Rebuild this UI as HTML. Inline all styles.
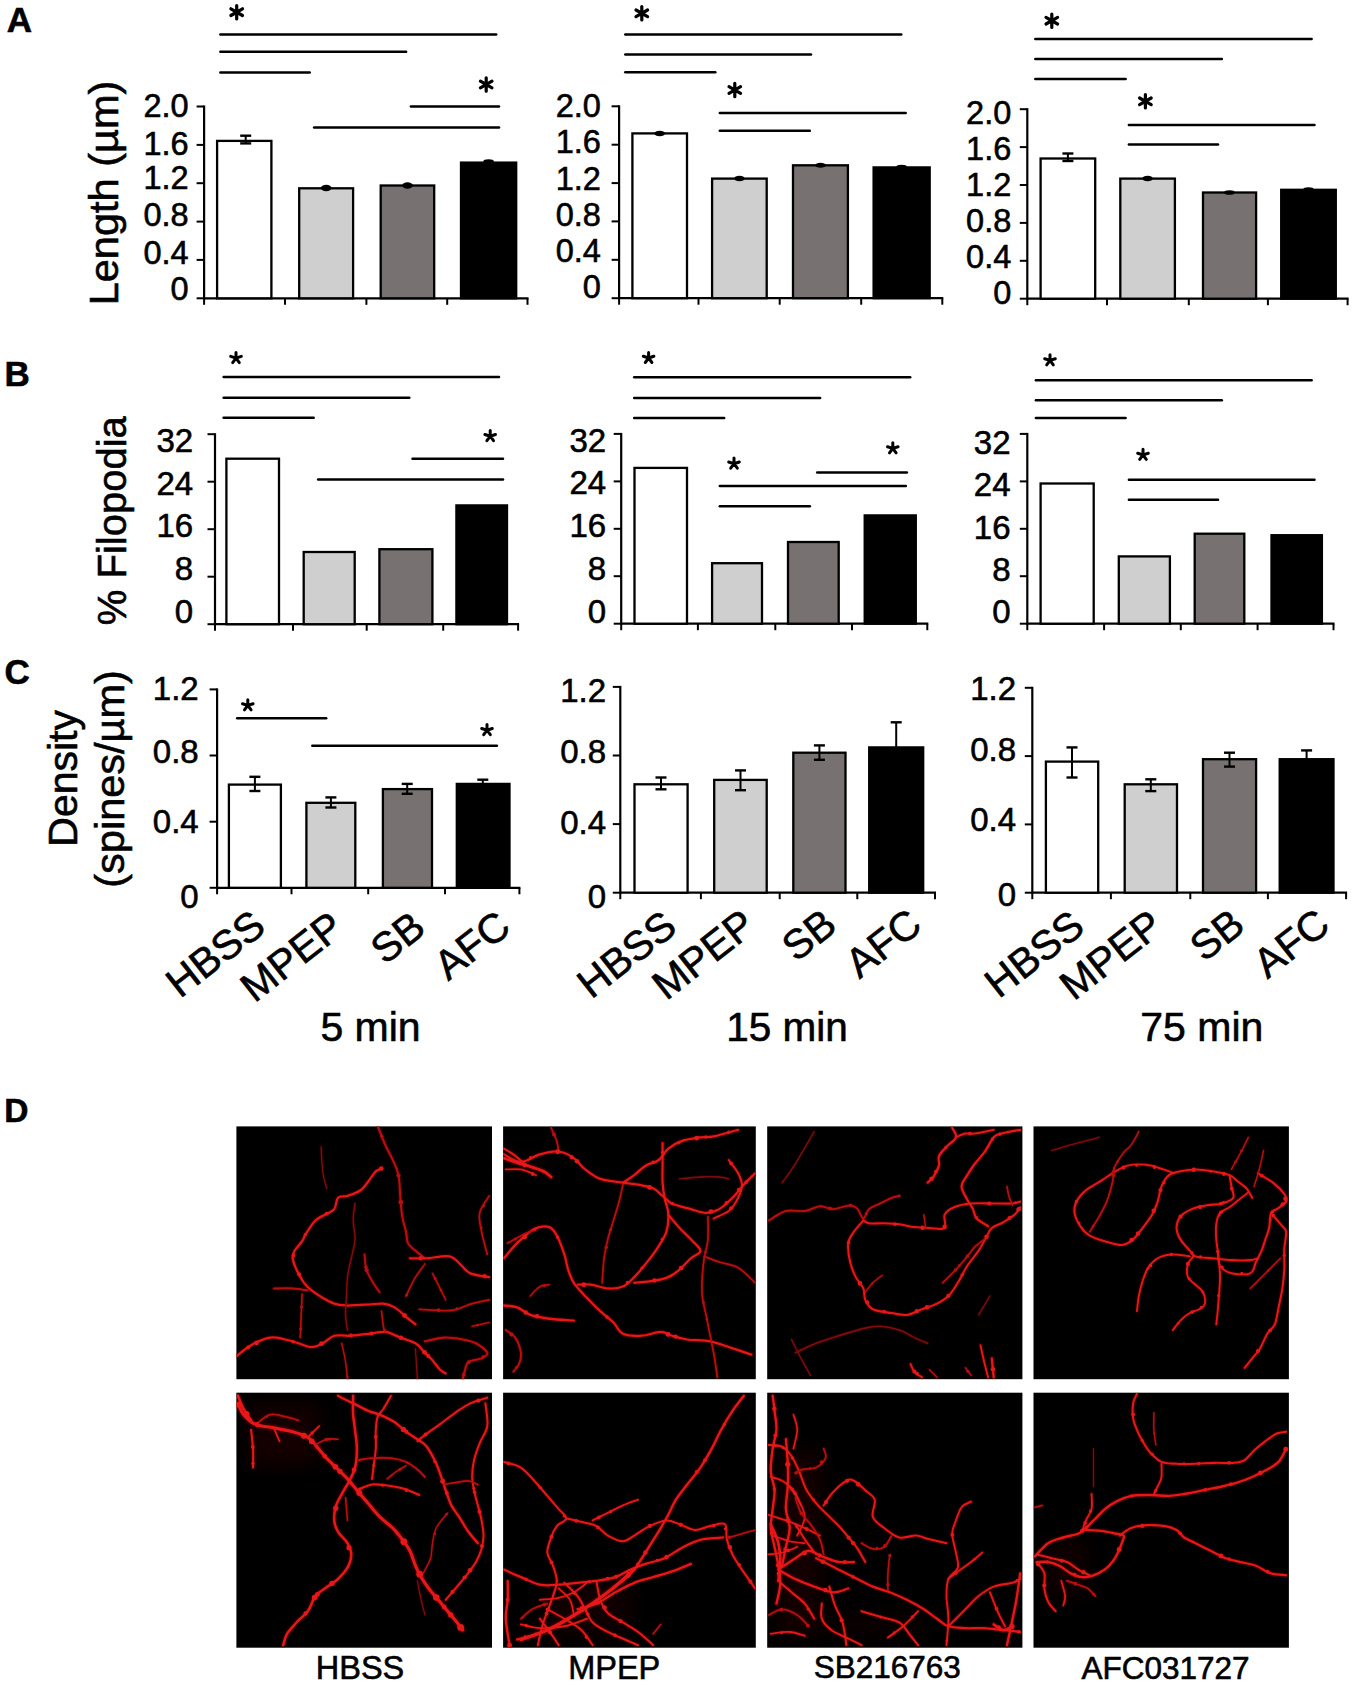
<!DOCTYPE html>
<html><head><meta charset="utf-8"><style>
html,body{margin:0;padding:0;background:#fff;width:1355px;height:1685px;overflow:hidden}
</style></head><body>
<svg width="1355" height="1685" viewBox="0 0 1355 1685" style="position:absolute;left:0;top:0" font-family='"Liberation Sans", sans-serif' fill="#000">
<style>text{stroke:#000;stroke-width:0.6px;paint-order:stroke}</style>
<rect x="0" y="0" width="1355" height="1685" fill="#fff"/>
<line x1="204.1" y1="105.5" x2="204.1" y2="299.3" stroke="#000" stroke-width="2.2" stroke-linecap="butt"/>
<line x1="196.6" y1="106.5" x2="204.1" y2="106.5" stroke="#000" stroke-width="2.0" stroke-linecap="butt"/>
<line x1="196.6" y1="144.9" x2="204.1" y2="144.9" stroke="#000" stroke-width="2.0" stroke-linecap="butt"/>
<line x1="196.6" y1="183.2" x2="204.1" y2="183.2" stroke="#000" stroke-width="2.0" stroke-linecap="butt"/>
<line x1="196.6" y1="221.6" x2="204.1" y2="221.6" stroke="#000" stroke-width="2.0" stroke-linecap="butt"/>
<line x1="196.6" y1="259.9" x2="204.1" y2="259.9" stroke="#000" stroke-width="2.0" stroke-linecap="butt"/>
<line x1="196.6" y1="298.3" x2="204.1" y2="298.3" stroke="#000" stroke-width="2.0" stroke-linecap="butt"/>
<line x1="204.1" y1="298.3" x2="528.5" y2="298.3" stroke="#000" stroke-width="2.2" stroke-linecap="butt"/>
<line x1="204.1" y1="298.3" x2="204.1" y2="304.8" stroke="#000" stroke-width="2.0" stroke-linecap="butt"/>
<line x1="285.0" y1="298.3" x2="285.0" y2="304.8" stroke="#000" stroke-width="2.0" stroke-linecap="butt"/>
<line x1="366.4" y1="298.3" x2="366.4" y2="304.8" stroke="#000" stroke-width="2.0" stroke-linecap="butt"/>
<line x1="447.2" y1="298.3" x2="447.2" y2="304.8" stroke="#000" stroke-width="2.0" stroke-linecap="butt"/>
<line x1="527.5" y1="298.3" x2="527.5" y2="304.8" stroke="#000" stroke-width="2.0" stroke-linecap="butt"/>
<rect x="217.1" y="140.9" width="54.3" height="157.4" fill="#ffffff" stroke="#000" stroke-width="2.3"/>
<rect x="299.2" y="188.3" width="53.9" height="110.0" fill="#d0cfd0" stroke="#000" stroke-width="2.3"/>
<rect x="380.7" y="185.5" width="53.5" height="112.8" fill="#777171" stroke="#000" stroke-width="2.3"/>
<rect x="461.0" y="162.6" width="55.2" height="135.7" fill="#000000" stroke="#000" stroke-width="2.3"/>
<line x1="245.7" y1="135.7" x2="245.7" y2="143.4" stroke="#000" stroke-width="2.0" stroke-linecap="butt"/>
<line x1="240.2" y1="135.7" x2="251.2" y2="135.7" stroke="#000" stroke-width="2.4" stroke-linecap="butt"/>
<line x1="240.2" y1="143.4" x2="251.2" y2="143.4" stroke="#000" stroke-width="2.4" stroke-linecap="butt"/>
<ellipse cx="326.2" cy="188.0" rx="5.3" ry="3.3" fill="#000"/>
<ellipse cx="407.5" cy="185.5" rx="5.3" ry="3.3" fill="#000"/>
<ellipse cx="488.6" cy="161.5" rx="5.3" ry="2.3" fill="#000"/>
<line x1="220.4" y1="34.6" x2="496.2" y2="34.6" stroke="#000" stroke-width="2.5" stroke-linecap="round"/>
<line x1="220.4" y1="51.8" x2="406.1" y2="51.8" stroke="#000" stroke-width="2.5" stroke-linecap="round"/>
<line x1="220.4" y1="72.5" x2="309.7" y2="72.5" stroke="#000" stroke-width="2.5" stroke-linecap="round"/>
<line x1="410.9" y1="106.4" x2="499.0" y2="106.4" stroke="#000" stroke-width="2.5" stroke-linecap="round"/>
<line x1="314.1" y1="127.5" x2="499.0" y2="127.5" stroke="#000" stroke-width="2.5" stroke-linecap="round"/>
<path d="M236.7 18.9L236.7 5.5M230.9 15.5L242.5 8.8M230.9 8.8L242.5 15.5" stroke="#000" stroke-width="3.2" stroke-linecap="round" fill="none"/>
<path d="M486.2 91.2L486.2 77.8M480.4 87.8L492.0 81.2M480.4 81.2L492.0 87.8" stroke="#000" stroke-width="3.2" stroke-linecap="round" fill="none"/>
<text x="188.6" y="117.1" font-size="32.5" text-anchor="end" font-weight="normal">2.0</text>
<text x="188.6" y="155.2" font-size="32.5" text-anchor="end" font-weight="normal">1.6</text>
<text x="188.6" y="189.3" font-size="32.5" text-anchor="end" font-weight="normal">1.2</text>
<text x="188.6" y="225.6" font-size="32.5" text-anchor="end" font-weight="normal">0.8</text>
<text x="188.6" y="264.0" font-size="32.5" text-anchor="end" font-weight="normal">0.4</text>
<text x="188.6" y="300.2" font-size="32.5" text-anchor="end" font-weight="normal">0</text>
<line x1="619.1" y1="105.3" x2="619.1" y2="299.2" stroke="#000" stroke-width="2.2" stroke-linecap="butt"/>
<line x1="611.6" y1="106.3" x2="619.1" y2="106.3" stroke="#000" stroke-width="2.0" stroke-linecap="butt"/>
<line x1="611.6" y1="144.7" x2="619.1" y2="144.7" stroke="#000" stroke-width="2.0" stroke-linecap="butt"/>
<line x1="611.6" y1="183.1" x2="619.1" y2="183.1" stroke="#000" stroke-width="2.0" stroke-linecap="butt"/>
<line x1="611.6" y1="221.4" x2="619.1" y2="221.4" stroke="#000" stroke-width="2.0" stroke-linecap="butt"/>
<line x1="611.6" y1="259.8" x2="619.1" y2="259.8" stroke="#000" stroke-width="2.0" stroke-linecap="butt"/>
<line x1="611.6" y1="298.2" x2="619.1" y2="298.2" stroke="#000" stroke-width="2.0" stroke-linecap="butt"/>
<line x1="619.1" y1="298.2" x2="943.3" y2="298.2" stroke="#000" stroke-width="2.2" stroke-linecap="butt"/>
<line x1="619.1" y1="298.2" x2="619.1" y2="304.7" stroke="#000" stroke-width="2.0" stroke-linecap="butt"/>
<line x1="698.5" y1="298.2" x2="698.5" y2="304.7" stroke="#000" stroke-width="2.0" stroke-linecap="butt"/>
<line x1="779.7" y1="298.2" x2="779.7" y2="304.7" stroke="#000" stroke-width="2.0" stroke-linecap="butt"/>
<line x1="861.2" y1="298.2" x2="861.2" y2="304.7" stroke="#000" stroke-width="2.0" stroke-linecap="butt"/>
<line x1="942.3" y1="298.2" x2="942.3" y2="304.7" stroke="#000" stroke-width="2.0" stroke-linecap="butt"/>
<rect x="632.4" y="133.4" width="54.6" height="164.8" fill="#ffffff" stroke="#000" stroke-width="2.3"/>
<rect x="712.1" y="178.6" width="54.6" height="119.6" fill="#d0cfd0" stroke="#000" stroke-width="2.3"/>
<rect x="793.0" y="165.3" width="54.9" height="132.9" fill="#777171" stroke="#000" stroke-width="2.3"/>
<rect x="873.6" y="167.4" width="56.1" height="130.8" fill="#000000" stroke="#000" stroke-width="2.3"/>
<ellipse cx="659.7" cy="133.5" rx="5.3" ry="2.8" fill="#000"/>
<ellipse cx="739.4" cy="178.5" rx="5.3" ry="2.8" fill="#000"/>
<ellipse cx="820.5" cy="165.2" rx="5.3" ry="2.5" fill="#000"/>
<ellipse cx="901.6" cy="166.8" rx="5.3" ry="2.0" fill="#000"/>
<line x1="625.3" y1="34.5" x2="901.3" y2="34.5" stroke="#000" stroke-width="2.5" stroke-linecap="round"/>
<line x1="625.3" y1="54.6" x2="811.0" y2="54.6" stroke="#000" stroke-width="2.5" stroke-linecap="round"/>
<line x1="625.3" y1="72.3" x2="715.3" y2="72.3" stroke="#000" stroke-width="2.5" stroke-linecap="round"/>
<line x1="719.8" y1="113.1" x2="905.7" y2="113.1" stroke="#000" stroke-width="2.5" stroke-linecap="round"/>
<line x1="719.8" y1="130.8" x2="809.8" y2="130.8" stroke="#000" stroke-width="2.5" stroke-linecap="round"/>
<path d="M641.8 20.0L641.8 6.6M636.0 16.6L647.6 10.0M636.0 10.0L647.6 16.6" stroke="#000" stroke-width="3.2" stroke-linecap="round" fill="none"/>
<path d="M734.8 96.7L734.8 83.3M729.0 93.3L740.6 86.7M729.0 86.7L740.6 93.3" stroke="#000" stroke-width="3.2" stroke-linecap="round" fill="none"/>
<text x="600.9" y="117.1" font-size="32.5" text-anchor="end" font-weight="normal">2.0</text>
<text x="600.9" y="153.3" font-size="32.5" text-anchor="end" font-weight="normal">1.6</text>
<text x="600.9" y="189.5" font-size="32.5" text-anchor="end" font-weight="normal">1.2</text>
<text x="600.9" y="225.7" font-size="32.5" text-anchor="end" font-weight="normal">0.8</text>
<text x="600.9" y="261.9" font-size="32.5" text-anchor="end" font-weight="normal">0.4</text>
<text x="600.9" y="298.1" font-size="32.5" text-anchor="end" font-weight="normal">0</text>
<line x1="1027.3" y1="108.2" x2="1027.3" y2="299.7" stroke="#000" stroke-width="2.2" stroke-linecap="butt"/>
<line x1="1019.8" y1="109.2" x2="1027.3" y2="109.2" stroke="#000" stroke-width="2.0" stroke-linecap="butt"/>
<line x1="1019.8" y1="147.1" x2="1027.3" y2="147.1" stroke="#000" stroke-width="2.0" stroke-linecap="butt"/>
<line x1="1019.8" y1="185.0" x2="1027.3" y2="185.0" stroke="#000" stroke-width="2.0" stroke-linecap="butt"/>
<line x1="1019.8" y1="222.9" x2="1027.3" y2="222.9" stroke="#000" stroke-width="2.0" stroke-linecap="butt"/>
<line x1="1019.8" y1="260.8" x2="1027.3" y2="260.8" stroke="#000" stroke-width="2.0" stroke-linecap="butt"/>
<line x1="1019.8" y1="298.7" x2="1027.3" y2="298.7" stroke="#000" stroke-width="2.0" stroke-linecap="butt"/>
<line x1="1027.3" y1="298.7" x2="1348.6" y2="298.7" stroke="#000" stroke-width="2.2" stroke-linecap="butt"/>
<line x1="1027.3" y1="298.7" x2="1027.3" y2="305.2" stroke="#000" stroke-width="2.0" stroke-linecap="butt"/>
<line x1="1107.0" y1="298.7" x2="1107.0" y2="305.2" stroke="#000" stroke-width="2.0" stroke-linecap="butt"/>
<line x1="1188.8" y1="298.7" x2="1188.8" y2="305.2" stroke="#000" stroke-width="2.0" stroke-linecap="butt"/>
<line x1="1267.9" y1="298.7" x2="1267.9" y2="305.2" stroke="#000" stroke-width="2.0" stroke-linecap="butt"/>
<line x1="1347.6" y1="298.7" x2="1347.6" y2="305.2" stroke="#000" stroke-width="2.0" stroke-linecap="butt"/>
<rect x="1040.6" y="158.5" width="54.6" height="140.2" fill="#ffffff" stroke="#000" stroke-width="2.3"/>
<rect x="1120.3" y="178.6" width="54.6" height="120.1" fill="#d0cfd0" stroke="#000" stroke-width="2.3"/>
<rect x="1203.0" y="192.5" width="53.1" height="106.2" fill="#777171" stroke="#000" stroke-width="2.3"/>
<rect x="1281.2" y="189.8" width="54.6" height="108.9" fill="#000000" stroke="#000" stroke-width="2.3"/>
<line x1="1067.9" y1="153.5" x2="1067.9" y2="161.0" stroke="#000" stroke-width="2.0" stroke-linecap="butt"/>
<line x1="1062.4" y1="153.5" x2="1073.4" y2="153.5" stroke="#000" stroke-width="2.4" stroke-linecap="butt"/>
<line x1="1062.4" y1="161.0" x2="1073.4" y2="161.0" stroke="#000" stroke-width="2.4" stroke-linecap="butt"/>
<ellipse cx="1147.6" cy="178.5" rx="5.3" ry="2.8" fill="#000"/>
<ellipse cx="1229.5" cy="192.5" rx="5.3" ry="2.3" fill="#000"/>
<ellipse cx="1308.5" cy="189.5" rx="5.3" ry="2.3" fill="#000"/>
<line x1="1035.3" y1="39.0" x2="1311.6" y2="39.0" stroke="#000" stroke-width="2.5" stroke-linecap="round"/>
<line x1="1035.3" y1="59.0" x2="1221.8" y2="59.0" stroke="#000" stroke-width="2.5" stroke-linecap="round"/>
<line x1="1035.3" y1="79.1" x2="1125.6" y2="79.1" stroke="#000" stroke-width="2.5" stroke-linecap="round"/>
<line x1="1128.9" y1="124.9" x2="1314.5" y2="124.9" stroke="#000" stroke-width="2.5" stroke-linecap="round"/>
<line x1="1128.9" y1="144.6" x2="1218.0" y2="144.6" stroke="#000" stroke-width="2.5" stroke-linecap="round"/>
<path d="M1051.8 27.4L1051.8 14.0M1046.0 24.0L1057.6 17.4M1046.0 17.4L1057.6 24.0" stroke="#000" stroke-width="3.2" stroke-linecap="round" fill="none"/>
<path d="M1145.4 108.0L1145.4 94.6M1139.6 104.6L1151.2 98.0M1139.6 98.0L1151.2 104.6" stroke="#000" stroke-width="3.2" stroke-linecap="round" fill="none"/>
<text x="1011.3" y="123.9" font-size="32.5" text-anchor="end" font-weight="normal">2.0</text>
<text x="1011.3" y="160.0" font-size="32.5" text-anchor="end" font-weight="normal">1.6</text>
<text x="1011.3" y="196.1" font-size="32.5" text-anchor="end" font-weight="normal">1.2</text>
<text x="1011.3" y="232.2" font-size="32.5" text-anchor="end" font-weight="normal">0.8</text>
<text x="1011.3" y="268.3" font-size="32.5" text-anchor="end" font-weight="normal">0.4</text>
<text x="1011.3" y="304.4" font-size="32.5" text-anchor="end" font-weight="normal">0</text>
<line x1="215.0" y1="433.2" x2="215.0" y2="625.2" stroke="#000" stroke-width="2.2" stroke-linecap="butt"/>
<line x1="207.5" y1="434.2" x2="215.0" y2="434.2" stroke="#000" stroke-width="2.0" stroke-linecap="butt"/>
<line x1="207.5" y1="481.7" x2="215.0" y2="481.7" stroke="#000" stroke-width="2.0" stroke-linecap="butt"/>
<line x1="207.5" y1="529.2" x2="215.0" y2="529.2" stroke="#000" stroke-width="2.0" stroke-linecap="butt"/>
<line x1="207.5" y1="576.7" x2="215.0" y2="576.7" stroke="#000" stroke-width="2.0" stroke-linecap="butt"/>
<line x1="207.5" y1="624.2" x2="215.0" y2="624.2" stroke="#000" stroke-width="2.0" stroke-linecap="butt"/>
<line x1="215.0" y1="624.2" x2="519.1" y2="624.2" stroke="#000" stroke-width="2.2" stroke-linecap="butt"/>
<line x1="215.0" y1="624.2" x2="215.0" y2="630.7" stroke="#000" stroke-width="2.0" stroke-linecap="butt"/>
<line x1="293.0" y1="624.2" x2="293.0" y2="630.7" stroke="#000" stroke-width="2.0" stroke-linecap="butt"/>
<line x1="366.7" y1="624.2" x2="366.7" y2="630.7" stroke="#000" stroke-width="2.0" stroke-linecap="butt"/>
<line x1="443.2" y1="624.2" x2="443.2" y2="630.7" stroke="#000" stroke-width="2.0" stroke-linecap="butt"/>
<line x1="518.1" y1="624.2" x2="518.1" y2="630.7" stroke="#000" stroke-width="2.0" stroke-linecap="butt"/>
<rect x="226.4" y="458.7" width="52.6" height="165.5" fill="#ffffff" stroke="#000" stroke-width="2.3"/>
<rect x="303.7" y="552.0" width="51.0" height="72.2" fill="#d0cfd0" stroke="#000" stroke-width="2.3"/>
<rect x="379.4" y="549.2" width="53.0" height="75.0" fill="#777171" stroke="#000" stroke-width="2.3"/>
<rect x="456.4" y="505.4" width="50.6" height="118.8" fill="#000000" stroke="#000" stroke-width="2.3"/>
<line x1="223.6" y1="377.0" x2="499.0" y2="377.0" stroke="#000" stroke-width="2.5" stroke-linecap="round"/>
<line x1="223.6" y1="397.8" x2="409.3" y2="397.8" stroke="#000" stroke-width="2.5" stroke-linecap="round"/>
<line x1="223.6" y1="417.7" x2="313.7" y2="417.7" stroke="#000" stroke-width="2.5" stroke-linecap="round"/>
<line x1="412.5" y1="458.7" x2="503.0" y2="458.7" stroke="#000" stroke-width="2.5" stroke-linecap="round"/>
<line x1="318.1" y1="479.5" x2="503.0" y2="479.5" stroke="#000" stroke-width="2.5" stroke-linecap="round"/>
<path d="M236.0 358.1L236.0 352.5M236.0 358.1L241.3 356.4M236.0 358.1L230.7 356.4M236.0 358.1L239.3 362.6M236.0 358.1L232.7 362.6" stroke="#000" stroke-width="3.0" stroke-linecap="round" fill="none"/>
<circle cx="236.0" cy="358.1" r="2.2" fill="#000"/>
<path d="M490.2 436.2L490.2 430.6M490.2 436.2L495.5 434.5M490.2 436.2L484.9 434.5M490.2 436.2L493.5 440.7M490.2 436.2L486.9 440.7" stroke="#000" stroke-width="3.0" stroke-linecap="round" fill="none"/>
<circle cx="490.2" cy="436.2" r="2.2" fill="#000"/>
<text x="193.1" y="451.8" font-size="33" text-anchor="end" font-weight="normal">32</text>
<text x="193.1" y="494.6" font-size="33" text-anchor="end" font-weight="normal">24</text>
<text x="193.1" y="537.4" font-size="33" text-anchor="end" font-weight="normal">16</text>
<text x="193.1" y="580.2" font-size="33" text-anchor="end" font-weight="normal">8</text>
<text x="193.1" y="623.0" font-size="33" text-anchor="end" font-weight="normal">0</text>
<line x1="621.2" y1="432.9" x2="621.2" y2="624.7" stroke="#000" stroke-width="2.2" stroke-linecap="butt"/>
<line x1="613.7" y1="433.9" x2="621.2" y2="433.9" stroke="#000" stroke-width="2.0" stroke-linecap="butt"/>
<line x1="613.7" y1="481.4" x2="621.2" y2="481.4" stroke="#000" stroke-width="2.0" stroke-linecap="butt"/>
<line x1="613.7" y1="528.8" x2="621.2" y2="528.8" stroke="#000" stroke-width="2.0" stroke-linecap="butt"/>
<line x1="613.7" y1="576.2" x2="621.2" y2="576.2" stroke="#000" stroke-width="2.0" stroke-linecap="butt"/>
<line x1="613.7" y1="623.7" x2="621.2" y2="623.7" stroke="#000" stroke-width="2.0" stroke-linecap="butt"/>
<line x1="621.2" y1="623.7" x2="928.3" y2="623.7" stroke="#000" stroke-width="2.2" stroke-linecap="butt"/>
<line x1="621.2" y1="623.7" x2="621.2" y2="630.2" stroke="#000" stroke-width="2.0" stroke-linecap="butt"/>
<line x1="697.9" y1="623.7" x2="697.9" y2="630.2" stroke="#000" stroke-width="2.0" stroke-linecap="butt"/>
<line x1="775.3" y1="623.7" x2="775.3" y2="630.2" stroke="#000" stroke-width="2.0" stroke-linecap="butt"/>
<line x1="852.0" y1="623.7" x2="852.0" y2="630.2" stroke="#000" stroke-width="2.0" stroke-linecap="butt"/>
<line x1="927.3" y1="623.7" x2="927.3" y2="630.2" stroke="#000" stroke-width="2.0" stroke-linecap="butt"/>
<rect x="634.5" y="467.9" width="52.5" height="155.8" fill="#ffffff" stroke="#000" stroke-width="2.3"/>
<rect x="712.1" y="563.2" width="49.9" height="60.5" fill="#d0cfd0" stroke="#000" stroke-width="2.3"/>
<rect x="788.0" y="542.0" width="50.7" height="81.7" fill="#777171" stroke="#000" stroke-width="2.3"/>
<rect x="864.7" y="515.4" width="51.1" height="108.3" fill="#000000" stroke="#000" stroke-width="2.3"/>
<line x1="634.2" y1="377.2" x2="910.2" y2="377.2" stroke="#000" stroke-width="2.5" stroke-linecap="round"/>
<line x1="634.2" y1="397.9" x2="820.1" y2="397.9" stroke="#000" stroke-width="2.5" stroke-linecap="round"/>
<line x1="634.2" y1="418.0" x2="724.2" y2="418.0" stroke="#000" stroke-width="2.5" stroke-linecap="round"/>
<line x1="817.2" y1="472.6" x2="906.9" y2="472.6" stroke="#000" stroke-width="2.5" stroke-linecap="round"/>
<line x1="719.8" y1="485.9" x2="905.8" y2="485.9" stroke="#000" stroke-width="2.5" stroke-linecap="round"/>
<line x1="719.8" y1="506.2" x2="809.8" y2="506.2" stroke="#000" stroke-width="2.5" stroke-linecap="round"/>
<path d="M648.6 358.0L648.6 352.4M648.6 358.0L653.9 356.3M648.6 358.0L643.3 356.3M648.6 358.0L651.9 362.5M648.6 358.0L645.3 362.5" stroke="#000" stroke-width="3.0" stroke-linecap="round" fill="none"/>
<circle cx="648.6" cy="358.0" r="2.2" fill="#000"/>
<path d="M734.0 463.7L734.0 458.1M734.0 463.7L739.3 462.0M734.0 463.7L728.7 462.0M734.0 463.7L737.3 468.2M734.0 463.7L730.7 468.2" stroke="#000" stroke-width="3.0" stroke-linecap="round" fill="none"/>
<circle cx="734.0" cy="463.7" r="2.2" fill="#000"/>
<path d="M892.8 448.4L892.8 442.8M892.8 448.4L898.1 446.7M892.8 448.4L887.5 446.7M892.8 448.4L896.1 452.9M892.8 448.4L889.5 452.9" stroke="#000" stroke-width="3.0" stroke-linecap="round" fill="none"/>
<circle cx="892.8" cy="448.4" r="2.2" fill="#000"/>
<text x="606.1" y="451.6" font-size="33" text-anchor="end" font-weight="normal">32</text>
<text x="606.1" y="494.4" font-size="33" text-anchor="end" font-weight="normal">24</text>
<text x="606.1" y="537.2" font-size="33" text-anchor="end" font-weight="normal">16</text>
<text x="606.1" y="580.0" font-size="33" text-anchor="end" font-weight="normal">8</text>
<text x="606.1" y="622.8" font-size="33" text-anchor="end" font-weight="normal">0</text>
<line x1="1027.3" y1="432.9" x2="1027.3" y2="624.7" stroke="#000" stroke-width="2.2" stroke-linecap="butt"/>
<line x1="1019.8" y1="433.9" x2="1027.3" y2="433.9" stroke="#000" stroke-width="2.0" stroke-linecap="butt"/>
<line x1="1019.8" y1="481.4" x2="1027.3" y2="481.4" stroke="#000" stroke-width="2.0" stroke-linecap="butt"/>
<line x1="1019.8" y1="528.8" x2="1027.3" y2="528.8" stroke="#000" stroke-width="2.0" stroke-linecap="butt"/>
<line x1="1019.8" y1="576.2" x2="1027.3" y2="576.2" stroke="#000" stroke-width="2.0" stroke-linecap="butt"/>
<line x1="1019.8" y1="623.7" x2="1027.3" y2="623.7" stroke="#000" stroke-width="2.0" stroke-linecap="butt"/>
<line x1="1027.3" y1="623.7" x2="1334.5" y2="623.7" stroke="#000" stroke-width="2.2" stroke-linecap="butt"/>
<line x1="1027.3" y1="623.7" x2="1027.3" y2="630.2" stroke="#000" stroke-width="2.0" stroke-linecap="butt"/>
<line x1="1104.1" y1="623.7" x2="1104.1" y2="630.2" stroke="#000" stroke-width="2.0" stroke-linecap="butt"/>
<line x1="1180.8" y1="623.7" x2="1180.8" y2="630.2" stroke="#000" stroke-width="2.0" stroke-linecap="butt"/>
<line x1="1257.6" y1="623.7" x2="1257.6" y2="630.2" stroke="#000" stroke-width="2.0" stroke-linecap="butt"/>
<line x1="1333.5" y1="623.7" x2="1333.5" y2="630.2" stroke="#000" stroke-width="2.0" stroke-linecap="butt"/>
<rect x="1040.6" y="483.5" width="53.1" height="140.2" fill="#ffffff" stroke="#000" stroke-width="2.3"/>
<rect x="1118.8" y="556.4" width="51.1" height="67.3" fill="#d0cfd0" stroke="#000" stroke-width="2.3"/>
<rect x="1194.7" y="533.7" width="49.6" height="90.0" fill="#777171" stroke="#000" stroke-width="2.3"/>
<rect x="1271.5" y="535.2" width="50.4" height="88.5" fill="#000000" stroke="#000" stroke-width="2.3"/>
<line x1="1035.9" y1="380.2" x2="1311.6" y2="380.2" stroke="#000" stroke-width="2.5" stroke-linecap="round"/>
<line x1="1035.9" y1="400.3" x2="1221.8" y2="400.3" stroke="#000" stroke-width="2.5" stroke-linecap="round"/>
<line x1="1035.9" y1="418.0" x2="1125.6" y2="418.0" stroke="#000" stroke-width="2.5" stroke-linecap="round"/>
<line x1="1128.9" y1="479.7" x2="1314.5" y2="479.7" stroke="#000" stroke-width="2.5" stroke-linecap="round"/>
<line x1="1128.9" y1="499.7" x2="1218.0" y2="499.7" stroke="#000" stroke-width="2.5" stroke-linecap="round"/>
<path d="M1050.0 360.4L1050.0 354.8M1050.0 360.4L1055.3 358.7M1050.0 360.4L1044.7 358.7M1050.0 360.4L1053.3 364.9M1050.0 360.4L1046.7 364.9" stroke="#000" stroke-width="3.0" stroke-linecap="round" fill="none"/>
<circle cx="1050.0" cy="360.4" r="2.2" fill="#000"/>
<path d="M1143.0 454.9L1143.0 449.3M1143.0 454.9L1148.3 453.2M1143.0 454.9L1137.7 453.2M1143.0 454.9L1146.3 459.4M1143.0 454.9L1139.7 459.4" stroke="#000" stroke-width="3.0" stroke-linecap="round" fill="none"/>
<circle cx="1143.0" cy="454.9" r="2.2" fill="#000"/>
<text x="1010.5" y="454.1" font-size="33" text-anchor="end" font-weight="normal">32</text>
<text x="1010.5" y="496.4" font-size="33" text-anchor="end" font-weight="normal">24</text>
<text x="1010.5" y="538.7" font-size="33" text-anchor="end" font-weight="normal">16</text>
<text x="1010.5" y="581.0" font-size="33" text-anchor="end" font-weight="normal">8</text>
<text x="1010.5" y="623.3" font-size="33" text-anchor="end" font-weight="normal">0</text>
<line x1="217.1" y1="688.4" x2="217.1" y2="888.8" stroke="#000" stroke-width="2.2" stroke-linecap="butt"/>
<line x1="209.6" y1="689.4" x2="217.1" y2="689.4" stroke="#000" stroke-width="2.0" stroke-linecap="butt"/>
<line x1="209.6" y1="755.5" x2="217.1" y2="755.5" stroke="#000" stroke-width="2.0" stroke-linecap="butt"/>
<line x1="209.6" y1="821.7" x2="217.1" y2="821.7" stroke="#000" stroke-width="2.0" stroke-linecap="butt"/>
<line x1="209.6" y1="887.8" x2="217.1" y2="887.8" stroke="#000" stroke-width="2.0" stroke-linecap="butt"/>
<line x1="217.1" y1="887.8" x2="520.4" y2="887.8" stroke="#000" stroke-width="2.2" stroke-linecap="butt"/>
<line x1="217.1" y1="887.8" x2="217.1" y2="894.3" stroke="#000" stroke-width="2.0" stroke-linecap="butt"/>
<line x1="291.5" y1="887.8" x2="291.5" y2="894.3" stroke="#000" stroke-width="2.0" stroke-linecap="butt"/>
<line x1="368.2" y1="887.8" x2="368.2" y2="894.3" stroke="#000" stroke-width="2.0" stroke-linecap="butt"/>
<line x1="445.0" y1="887.8" x2="445.0" y2="894.3" stroke="#000" stroke-width="2.0" stroke-linecap="butt"/>
<line x1="519.4" y1="887.8" x2="519.4" y2="894.3" stroke="#000" stroke-width="2.0" stroke-linecap="butt"/>
<rect x="228.9" y="784.6" width="52.0" height="103.2" fill="#ffffff" stroke="#000" stroke-width="2.3"/>
<rect x="306.4" y="802.8" width="48.9" height="85.0" fill="#d0cfd0" stroke="#000" stroke-width="2.3"/>
<rect x="382.9" y="789.1" width="49.1" height="98.7" fill="#777171" stroke="#000" stroke-width="2.3"/>
<rect x="456.8" y="783.9" width="52.7" height="103.9" fill="#000000" stroke="#000" stroke-width="2.3"/>
<line x1="254.9" y1="776.8" x2="254.9" y2="791.0" stroke="#000" stroke-width="2.0" stroke-linecap="butt"/>
<line x1="249.4" y1="776.8" x2="260.4" y2="776.8" stroke="#000" stroke-width="2.4" stroke-linecap="butt"/>
<line x1="249.4" y1="791.0" x2="260.4" y2="791.0" stroke="#000" stroke-width="2.4" stroke-linecap="butt"/>
<line x1="330.9" y1="797.4" x2="330.9" y2="807.5" stroke="#000" stroke-width="2.0" stroke-linecap="butt"/>
<line x1="325.4" y1="797.4" x2="336.4" y2="797.4" stroke="#000" stroke-width="2.4" stroke-linecap="butt"/>
<line x1="325.4" y1="807.5" x2="336.4" y2="807.5" stroke="#000" stroke-width="2.4" stroke-linecap="butt"/>
<line x1="407.2" y1="783.9" x2="407.2" y2="793.8" stroke="#000" stroke-width="2.0" stroke-linecap="butt"/>
<line x1="401.7" y1="783.9" x2="412.7" y2="783.9" stroke="#000" stroke-width="2.4" stroke-linecap="butt"/>
<line x1="401.7" y1="793.8" x2="412.7" y2="793.8" stroke="#000" stroke-width="2.4" stroke-linecap="butt"/>
<line x1="482.8" y1="779.7" x2="482.8" y2="786.0" stroke="#000" stroke-width="2.0" stroke-linecap="butt"/>
<line x1="477.3" y1="779.7" x2="488.3" y2="779.7" stroke="#000" stroke-width="2.4" stroke-linecap="butt"/>
<line x1="477.3" y1="786.0" x2="488.3" y2="786.0" stroke="#000" stroke-width="2.4" stroke-linecap="butt"/>
<line x1="237.2" y1="718.3" x2="326.2" y2="718.3" stroke="#000" stroke-width="2.5" stroke-linecap="round"/>
<line x1="312.3" y1="745.7" x2="496.9" y2="745.7" stroke="#000" stroke-width="2.5" stroke-linecap="round"/>
<path d="M247.8 705.4L247.8 699.8M247.8 705.4L253.1 703.7M247.8 705.4L242.5 703.7M247.8 705.4L251.1 709.9M247.8 705.4L244.5 709.9" stroke="#000" stroke-width="3.0" stroke-linecap="round" fill="none"/>
<circle cx="247.8" cy="705.4" r="2.2" fill="#000"/>
<path d="M487.0 730.2L487.0 724.6M487.0 730.2L492.3 728.5M487.0 730.2L481.7 728.5M487.0 730.2L490.3 734.7M487.0 730.2L483.7 734.7" stroke="#000" stroke-width="3.0" stroke-linecap="round" fill="none"/>
<circle cx="487.0" cy="730.2" r="2.2" fill="#000"/>
<text x="198.7" y="699.7" font-size="33" text-anchor="end" font-weight="normal">1.2</text>
<text x="198.7" y="763.4" font-size="33" text-anchor="end" font-weight="normal">0.8</text>
<text x="198.7" y="833.4" font-size="33" text-anchor="end" font-weight="normal">0.4</text>
<text x="198.7" y="907.8" font-size="33" text-anchor="end" font-weight="normal">0</text>
<line x1="620.3" y1="685.9" x2="620.3" y2="893.7" stroke="#000" stroke-width="2.2" stroke-linecap="butt"/>
<line x1="612.8" y1="686.9" x2="620.3" y2="686.9" stroke="#000" stroke-width="2.0" stroke-linecap="butt"/>
<line x1="612.8" y1="755.5" x2="620.3" y2="755.5" stroke="#000" stroke-width="2.0" stroke-linecap="butt"/>
<line x1="612.8" y1="824.1" x2="620.3" y2="824.1" stroke="#000" stroke-width="2.0" stroke-linecap="butt"/>
<line x1="612.8" y1="892.7" x2="620.3" y2="892.7" stroke="#000" stroke-width="2.0" stroke-linecap="butt"/>
<line x1="620.3" y1="892.7" x2="936.0" y2="892.7" stroke="#000" stroke-width="2.2" stroke-linecap="butt"/>
<line x1="620.3" y1="892.7" x2="620.3" y2="899.2" stroke="#000" stroke-width="2.0" stroke-linecap="butt"/>
<line x1="700.9" y1="892.7" x2="700.9" y2="899.2" stroke="#000" stroke-width="2.0" stroke-linecap="butt"/>
<line x1="779.7" y1="892.7" x2="779.7" y2="899.2" stroke="#000" stroke-width="2.0" stroke-linecap="butt"/>
<line x1="857.3" y1="892.7" x2="857.3" y2="899.2" stroke="#000" stroke-width="2.0" stroke-linecap="butt"/>
<line x1="935.0" y1="892.7" x2="935.0" y2="899.2" stroke="#000" stroke-width="2.0" stroke-linecap="butt"/>
<rect x="634.5" y="784.3" width="53.1" height="108.4" fill="#ffffff" stroke="#000" stroke-width="2.3"/>
<rect x="714.2" y="779.9" width="52.5" height="112.8" fill="#d0cfd0" stroke="#000" stroke-width="2.3"/>
<rect x="793.3" y="752.7" width="52.2" height="140.0" fill="#777171" stroke="#000" stroke-width="2.3"/>
<rect x="869.2" y="747.4" width="54.0" height="145.3" fill="#000000" stroke="#000" stroke-width="2.3"/>
<line x1="661.0" y1="777.5" x2="661.0" y2="789.3" stroke="#000" stroke-width="2.0" stroke-linecap="butt"/>
<line x1="655.5" y1="777.5" x2="666.5" y2="777.5" stroke="#000" stroke-width="2.4" stroke-linecap="butt"/>
<line x1="655.5" y1="789.3" x2="666.5" y2="789.3" stroke="#000" stroke-width="2.4" stroke-linecap="butt"/>
<line x1="740.5" y1="770.4" x2="740.5" y2="790.2" stroke="#000" stroke-width="2.0" stroke-linecap="butt"/>
<line x1="735.0" y1="770.4" x2="746.0" y2="770.4" stroke="#000" stroke-width="2.4" stroke-linecap="butt"/>
<line x1="735.0" y1="790.2" x2="746.0" y2="790.2" stroke="#000" stroke-width="2.4" stroke-linecap="butt"/>
<line x1="819.4" y1="745.4" x2="819.4" y2="759.8" stroke="#000" stroke-width="2.0" stroke-linecap="butt"/>
<line x1="813.9" y1="745.4" x2="824.9" y2="745.4" stroke="#000" stroke-width="2.4" stroke-linecap="butt"/>
<line x1="813.9" y1="759.8" x2="824.9" y2="759.8" stroke="#000" stroke-width="2.4" stroke-linecap="butt"/>
<line x1="896.2" y1="722.3" x2="896.2" y2="750.0" stroke="#000" stroke-width="2.0" stroke-linecap="butt"/>
<line x1="890.7" y1="722.3" x2="901.7" y2="722.3" stroke="#000" stroke-width="2.4" stroke-linecap="butt"/>
<line x1="890.7" y1="750.0" x2="901.7" y2="750.0" stroke="#000" stroke-width="2.4" stroke-linecap="butt"/>
<text x="606.1" y="702.3" font-size="33" text-anchor="end" font-weight="normal">1.2</text>
<text x="606.1" y="763.3" font-size="33" text-anchor="end" font-weight="normal">0.8</text>
<text x="606.1" y="833.5" font-size="33" text-anchor="end" font-weight="normal">0.4</text>
<text x="606.1" y="908.3" font-size="33" text-anchor="end" font-weight="normal">0</text>
<line x1="1032.3" y1="686.8" x2="1032.3" y2="893.7" stroke="#000" stroke-width="2.2" stroke-linecap="butt"/>
<line x1="1024.8" y1="687.8" x2="1032.3" y2="687.8" stroke="#000" stroke-width="2.0" stroke-linecap="butt"/>
<line x1="1024.8" y1="756.1" x2="1032.3" y2="756.1" stroke="#000" stroke-width="2.0" stroke-linecap="butt"/>
<line x1="1024.8" y1="824.4" x2="1032.3" y2="824.4" stroke="#000" stroke-width="2.0" stroke-linecap="butt"/>
<line x1="1024.8" y1="892.7" x2="1032.3" y2="892.7" stroke="#000" stroke-width="2.0" stroke-linecap="butt"/>
<line x1="1032.3" y1="892.7" x2="1347.1" y2="892.7" stroke="#000" stroke-width="2.2" stroke-linecap="butt"/>
<line x1="1032.3" y1="892.7" x2="1032.3" y2="899.2" stroke="#000" stroke-width="2.0" stroke-linecap="butt"/>
<line x1="1110.9" y1="892.7" x2="1110.9" y2="899.2" stroke="#000" stroke-width="2.0" stroke-linecap="butt"/>
<line x1="1190.3" y1="892.7" x2="1190.3" y2="899.2" stroke="#000" stroke-width="2.0" stroke-linecap="butt"/>
<line x1="1267.9" y1="892.7" x2="1267.9" y2="899.2" stroke="#000" stroke-width="2.0" stroke-linecap="butt"/>
<line x1="1346.1" y1="892.7" x2="1346.1" y2="899.2" stroke="#000" stroke-width="2.0" stroke-linecap="butt"/>
<rect x="1045.9" y="761.6" width="52.3" height="131.1" fill="#ffffff" stroke="#000" stroke-width="2.3"/>
<rect x="1124.7" y="784.3" width="52.3" height="108.4" fill="#d0cfd0" stroke="#000" stroke-width="2.3"/>
<rect x="1203.0" y="759.2" width="53.1" height="133.5" fill="#777171" stroke="#000" stroke-width="2.3"/>
<rect x="1279.7" y="759.2" width="53.8" height="133.5" fill="#000000" stroke="#000" stroke-width="2.3"/>
<line x1="1072.0" y1="747.4" x2="1072.0" y2="777.5" stroke="#000" stroke-width="2.0" stroke-linecap="butt"/>
<line x1="1066.5" y1="747.4" x2="1077.5" y2="747.4" stroke="#000" stroke-width="2.4" stroke-linecap="butt"/>
<line x1="1066.5" y1="777.5" x2="1077.5" y2="777.5" stroke="#000" stroke-width="2.4" stroke-linecap="butt"/>
<line x1="1150.8" y1="779.3" x2="1150.8" y2="791.1" stroke="#000" stroke-width="2.0" stroke-linecap="butt"/>
<line x1="1145.3" y1="779.3" x2="1156.3" y2="779.3" stroke="#000" stroke-width="2.4" stroke-linecap="butt"/>
<line x1="1145.3" y1="791.1" x2="1156.3" y2="791.1" stroke="#000" stroke-width="2.4" stroke-linecap="butt"/>
<line x1="1229.5" y1="752.7" x2="1229.5" y2="766.6" stroke="#000" stroke-width="2.0" stroke-linecap="butt"/>
<line x1="1224.0" y1="752.7" x2="1235.0" y2="752.7" stroke="#000" stroke-width="2.4" stroke-linecap="butt"/>
<line x1="1224.0" y1="766.6" x2="1235.0" y2="766.6" stroke="#000" stroke-width="2.4" stroke-linecap="butt"/>
<line x1="1306.6" y1="750.4" x2="1306.6" y2="762.0" stroke="#000" stroke-width="2.0" stroke-linecap="butt"/>
<line x1="1301.1" y1="750.4" x2="1312.1" y2="750.4" stroke="#000" stroke-width="2.4" stroke-linecap="butt"/>
<line x1="1301.1" y1="762.0" x2="1312.1" y2="762.0" stroke="#000" stroke-width="2.4" stroke-linecap="butt"/>
<text x="1016.0" y="700.0" font-size="33" text-anchor="end" font-weight="normal">1.2</text>
<text x="1016.0" y="761.0" font-size="33" text-anchor="end" font-weight="normal">0.8</text>
<text x="1016.0" y="831.2" font-size="33" text-anchor="end" font-weight="normal">0.4</text>
<text x="1016.0" y="906.0" font-size="33" text-anchor="end" font-weight="normal">0</text>
<text x="6.8" y="31.8" font-size="35" text-anchor="start" font-weight="bold">A</text>
<text x="4.4" y="386.3" font-size="35" text-anchor="start" font-weight="bold">B</text>
<text x="4.4" y="683.8" font-size="35" text-anchor="start" font-weight="bold">C</text>
<text x="4.2" y="1122.4" font-size="33.5" text-anchor="start" font-weight="bold">D</text>
<text x="117.7" y="305.3" font-size="41.5" text-anchor="start" font-weight="normal" transform="rotate(-90 117.7 305.3)">Length (µm)</text>
<text x="126.1" y="625.2" font-size="40" text-anchor="start" font-weight="normal" transform="rotate(-90 126.1 625.2)">% Filopodia</text>
<text x="76.8" y="846.7" font-size="41" text-anchor="start" font-weight="normal" transform="rotate(-90 76.8 846.7)">Density</text>
<text x="124.2" y="887.7" font-size="41.5" text-anchor="start" font-weight="normal" transform="rotate(-90 124.2 887.7)">(spines/µm)</text>
<text x="179.9" y="999.1" font-size="41" text-anchor="start" font-weight="normal" transform="rotate(-38 179.9 999.1)">HBSS</text>
<text x="254.6" y="1003.4" font-size="41" text-anchor="start" font-weight="normal" transform="rotate(-38 254.6 1003.4)">MPEP</text>
<text x="384.8" y="965.4" font-size="41" text-anchor="start" font-weight="normal" transform="rotate(-38 384.8 965.4)">SB</text>
<text x="448.3" y="981.4" font-size="41" text-anchor="start" font-weight="normal" transform="rotate(-38 448.3 981.4)">AFC</text>
<text x="591.2" y="999.7" font-size="41" text-anchor="start" font-weight="normal" transform="rotate(-38 591.2 999.7)">HBSS</text>
<text x="666.2" y="1001.3" font-size="41" text-anchor="start" font-weight="normal" transform="rotate(-38 666.2 1001.3)">MPEP</text>
<text x="796.0" y="962.8" font-size="41" text-anchor="start" font-weight="normal" transform="rotate(-38 796.0 962.8)">SB</text>
<text x="859.6" y="979.4" font-size="41" text-anchor="start" font-weight="normal" transform="rotate(-38 859.6 979.4)">AFC</text>
<text x="998.8" y="999.3" font-size="41" text-anchor="start" font-weight="normal" transform="rotate(-38 998.8 999.3)">HBSS</text>
<text x="1073.8" y="1001.6" font-size="41" text-anchor="start" font-weight="normal" transform="rotate(-38 1073.8 1001.6)">MPEP</text>
<text x="1204.0" y="962.8" font-size="41" text-anchor="start" font-weight="normal" transform="rotate(-38 1204.0 962.8)">SB</text>
<text x="1267.6" y="979.4" font-size="41" text-anchor="start" font-weight="normal" transform="rotate(-38 1267.6 979.4)">AFC</text>
<text x="320.4" y="1041.2" font-size="41" text-anchor="start" font-weight="normal">5 min</text>
<text x="726.3" y="1040.8" font-size="40.5" text-anchor="start" font-weight="normal">15 min</text>
<text x="1140.3" y="1040.8" font-size="41" text-anchor="start" font-weight="normal">75 min</text>
<defs>
<clipPath id="cp0"><rect x="236.4" y="1126.4" width="255.6" height="252.8"/></clipPath>
<clipPath id="cp1"><rect x="503.1" y="1126.4" width="252.7" height="252.8"/></clipPath>
<clipPath id="cp2"><rect x="767.2" y="1126.4" width="255.2" height="252.8"/></clipPath>
<clipPath id="cp3"><rect x="1033.5" y="1126.4" width="255.4" height="252.8"/></clipPath>
<clipPath id="cp4"><rect x="236.4" y="1392.7" width="255.6" height="255.0"/></clipPath>
<clipPath id="cp5"><rect x="503.1" y="1392.7" width="252.7" height="255.0"/></clipPath>
<clipPath id="cp6"><rect x="767.2" y="1392.7" width="255.2" height="255.0"/></clipPath>
<clipPath id="cp7"><rect x="1033.5" y="1392.7" width="255.4" height="255.0"/></clipPath>
<filter id="gl" x="-5%" y="-5%" width="110%" height="110%"><feGaussianBlur stdDeviation="0.6"/></filter>
<filter id="hz" x="-50%" y="-50%" width="200%" height="200%"><feGaussianBlur stdDeviation="50"/></filter>
</defs>
<rect x="236.4" y="1126.4" width="255.6" height="252.8" fill="#000"/>
<g clip-path="url(#cp0)"><g transform="translate(236 1126) scale(0.18893)" fill="none" stroke-linecap="round" stroke-linejoin="round">
<g opacity="0.35">
<path d="M750 0C757 17 777 70 790 100C803 130 818 153 830 180C842 207 853 227 860 260C867 293 867 343 870 380C873 417 875 450 880 480C885 510 895 537 900 560C905 583 902 603 910 620C918 637 935 647 950 660C965 673 992 693 1000 700" stroke="#700000" stroke-width="24.2"/>
<path d="M920 700C935 700 975 702 1010 700C1045 698 1100 684 1130 690C1160 696 1172 720 1190 735C1208 750 1215 769 1240 780C1265 791 1323 797 1340 800" stroke="#700000" stroke-width="26.1"/>
<path d="M770 225C765 228 750 231 740 240C730 249 723 263 710 280C697 297 680 325 660 340C640 355 610 363 590 370C570 377 552 368 540 380C528 392 532 425 520 440C508 455 487 460 470 470C453 480 437 483 420 500C403 517 382 552 370 570C358 588 360 595 350 610C340 625 318 645 310 660C302 675 298 683 300 700C302 717 310 738 320 760C330 782 347 812 360 830C373 848 383 857 400 870C417 883 440 898 460 910C480 922 500 933 520 940C540 947 550 949 580 950C610 951 667 947 700 945C733 943 757 938 780 940C803 942 820 948 840 960C860 972 882 995 900 1010C918 1025 942 1043 950 1050" stroke="#700000" stroke-width="26.1"/>
<path d="M200 860C217 860 270 858 300 860C330 862 367 868 380 870" stroke="#700000" stroke-width="22.4"/>
<path d="M630 410C628 425 620 468 620 500C620 532 632 567 630 600C628 633 617 667 610 700C603 733 594 767 590 800C586 833 587 867 585 900C583 933 579 970 580 1000C581 1030 588 1067 590 1080" stroke="#700000" stroke-width="16.8"/>
<path d="M680 680C682 693 683 737 690 760C697 783 708 800 720 820C732 840 753 870 760 880" stroke="#700000" stroke-width="22.4"/>
<path d="M0 1220C13 1210 50 1177 80 1160C110 1143 150 1125 180 1120C210 1115 235 1125 260 1130C285 1135 307 1143 330 1150C353 1157 378 1170 400 1170C422 1170 440 1160 460 1150C480 1140 497 1117 520 1110C543 1103 570 1112 600 1110C630 1108 668 1103 700 1100C732 1097 762 1087 790 1090C818 1093 843 1110 870 1120C897 1130 928 1137 950 1150C972 1163 985 1185 1000 1200C1015 1215 1027 1225 1040 1240C1053 1255 1068 1278 1080 1290C1092 1302 1105 1307 1110 1310" stroke="#700000" stroke-width="26.1"/>
<path d="M1000 1140C1017 1137 1067 1122 1100 1120C1133 1118 1172 1125 1200 1130C1228 1135 1248 1138 1270 1150C1292 1162 1325 1187 1330 1200C1335 1213 1317 1222 1300 1230C1283 1238 1245 1238 1230 1250C1215 1262 1215 1285 1210 1300C1205 1315 1202 1332 1200 1339" stroke="#700000" stroke-width="24.2"/>
<path d="M350 890C349 908 347 962 345 1000C343 1038 341 1100 340 1120" stroke="#700000" stroke-width="18.6"/>
<path d="M770 980C772 993 777 1042 780 1060C783 1078 788 1085 790 1090" stroke="#700000" stroke-width="18.6"/>
<path d="M900 900C908 883 933 828 950 800C967 772 992 742 1000 730" stroke="#700000" stroke-width="18.6"/>
<path d="M1040 780C1045 790 1058 817 1070 840C1082 863 1103 907 1110 920" stroke="#700000" stroke-width="18.6"/>
<path d="M1340 370C1332 385 1297 428 1290 460C1283 492 1293 523 1300 560C1307 597 1325 660 1330 680" stroke="#700000" stroke-width="20.5"/>
<path d="M970 970C983 971 1020 974 1050 975C1080 976 1117 981 1150 975C1183 969 1218 949 1250 940C1282 931 1325 923 1340 920" stroke="#700000" stroke-width="20.5"/>
<path d="M1250 1060L1340 1040" stroke="#700000" stroke-width="18.6"/>
<path d="M450 110C452 133 455 213 460 250C465 287 477 317 480 330" stroke="#700000" stroke-width="14.9"/>
<path d="M950 1180L960 1339" stroke="#700000" stroke-width="14.9"/>
<path d="M560 1150C563 1167 575 1218 580 1250C585 1282 588 1324 590 1339" stroke="#700000" stroke-width="16.8"/>
</g>
<g filter="url(#gl)">
<path d="M750 0C757 17 777 70 790 100C803 130 818 153 830 180C842 207 853 227 860 260C867 293 867 343 870 380C873 417 875 450 880 480C885 510 895 537 900 560C905 583 902 603 910 620C918 637 935 647 950 660C965 673 992 693 1000 700" stroke="#bb1010" stroke-width="11.0"/>
<path d="M920 700C935 700 975 702 1010 700C1045 698 1100 684 1130 690C1160 696 1172 720 1190 735C1208 750 1215 769 1240 780C1265 791 1323 797 1340 800" stroke="#e81616" stroke-width="11.9"/>
<path d="M770 225C765 228 750 231 740 240C730 249 723 263 710 280C697 297 680 325 660 340C640 355 610 363 590 370C570 377 552 368 540 380C528 392 532 425 520 440C508 455 487 460 470 470C453 480 437 483 420 500C403 517 382 552 370 570C358 588 360 595 350 610C340 625 318 645 310 660C302 675 298 683 300 700C302 717 310 738 320 760C330 782 347 812 360 830C373 848 383 857 400 870C417 883 440 898 460 910C480 922 500 933 520 940C540 947 550 949 580 950C610 951 667 947 700 945C733 943 757 938 780 940C803 942 820 948 840 960C860 972 882 995 900 1010C918 1025 942 1043 950 1050" stroke="#e81616" stroke-width="11.9"/>
<path d="M200 860C217 860 270 858 300 860C330 862 367 868 380 870" stroke="#bb1010" stroke-width="10.2"/>
<path d="M630 410C628 425 620 468 620 500C620 532 632 567 630 600C628 633 617 667 610 700C603 733 594 767 590 800C586 833 587 867 585 900C583 933 579 970 580 1000C581 1030 588 1067 590 1080" stroke="#800b0b" stroke-width="7.6"/>
<path d="M680 680C682 693 683 737 690 760C697 783 708 800 720 820C732 840 753 870 760 880" stroke="#bb1010" stroke-width="10.2"/>
<path d="M0 1220C13 1210 50 1177 80 1160C110 1143 150 1125 180 1120C210 1115 235 1125 260 1130C285 1135 307 1143 330 1150C353 1157 378 1170 400 1170C422 1170 440 1160 460 1150C480 1140 497 1117 520 1110C543 1103 570 1112 600 1110C630 1108 668 1103 700 1100C732 1097 762 1087 790 1090C818 1093 843 1110 870 1120C897 1130 928 1137 950 1150C972 1163 985 1185 1000 1200C1015 1215 1027 1225 1040 1240C1053 1255 1068 1278 1080 1290C1092 1302 1105 1307 1110 1310" stroke="#e81616" stroke-width="11.9"/>
<path d="M1000 1140C1017 1137 1067 1122 1100 1120C1133 1118 1172 1125 1200 1130C1228 1135 1248 1138 1270 1150C1292 1162 1325 1187 1330 1200C1335 1213 1317 1222 1300 1230C1283 1238 1245 1238 1230 1250C1215 1262 1215 1285 1210 1300C1205 1315 1202 1332 1200 1339" stroke="#bb1010" stroke-width="11.0"/>
<path d="M350 890C349 908 347 962 345 1000C343 1038 341 1100 340 1120" stroke="#bb1010" stroke-width="8.5"/>
<path d="M770 980C772 993 777 1042 780 1060C783 1078 788 1085 790 1090" stroke="#bb1010" stroke-width="8.5"/>
<path d="M900 900C908 883 933 828 950 800C967 772 992 742 1000 730" stroke="#bb1010" stroke-width="8.5"/>
<path d="M1040 780C1045 790 1058 817 1070 840C1082 863 1103 907 1110 920" stroke="#bb1010" stroke-width="8.5"/>
<path d="M1340 370C1332 385 1297 428 1290 460C1283 492 1293 523 1300 560C1307 597 1325 660 1330 680" stroke="#bb1010" stroke-width="9.3"/>
<path d="M970 970C983 971 1020 974 1050 975C1080 976 1117 981 1150 975C1183 969 1218 949 1250 940C1282 931 1325 923 1340 920" stroke="#bb1010" stroke-width="9.3"/>
<path d="M1250 1060L1340 1040" stroke="#bb1010" stroke-width="8.5"/>
<path d="M450 110C452 133 455 213 460 250C465 287 477 317 480 330" stroke="#800b0b" stroke-width="6.8"/>
<path d="M950 1180L960 1339" stroke="#800b0b" stroke-width="6.8"/>
<path d="M560 1150C563 1167 575 1218 580 1250C585 1282 588 1324 590 1339" stroke="#bb1010" stroke-width="7.6"/>
<circle cx="772" cy="54" r="9" fill="#bb1010" stroke="none"/>
<circle cx="860" cy="262" r="11" fill="#bb1010" stroke="none"/>
<circle cx="872" cy="403" r="12" fill="#bb1010" stroke="none"/>
<circle cx="977" cy="700" r="12" fill="#e81616" stroke="none"/>
<circle cx="1316" cy="795" r="11" fill="#e81616" stroke="none"/>
<circle cx="769" cy="225" r="12" fill="#e81616" stroke="none"/>
<circle cx="480" cy="464" r="10" fill="#e81616" stroke="none"/>
<circle cx="367" cy="575" r="9" fill="#e81616" stroke="none"/>
<circle cx="304" cy="685" r="10" fill="#e81616" stroke="none"/>
<circle cx="334" cy="785" r="11" fill="#e81616" stroke="none"/>
<circle cx="892" cy="1003" r="13" fill="#e81616" stroke="none"/>
<circle cx="688" cy="747" r="9" fill="#bb1010" stroke="none"/>
<circle cx="692" cy="764" r="11" fill="#bb1010" stroke="none"/>
<circle cx="64" cy="1172" r="10" fill="#e81616" stroke="none"/>
<circle cx="109" cy="1148" r="12" fill="#e81616" stroke="none"/>
<circle cx="303" cy="1142" r="9" fill="#e81616" stroke="none"/>
<circle cx="453" cy="1152" r="13" fill="#e81616" stroke="none"/>
<circle cx="608" cy="1109" r="11" fill="#e81616" stroke="none"/>
<circle cx="718" cy="1098" r="10" fill="#e81616" stroke="none"/>
<circle cx="873" cy="1121" r="12" fill="#e81616" stroke="none"/>
<circle cx="998" cy="1198" r="13" fill="#e81616" stroke="none"/>
<circle cx="1018" cy="1218" r="11" fill="#e81616" stroke="none"/>
<circle cx="1308" cy="1222" r="9" fill="#bb1010" stroke="none"/>
<circle cx="1232" cy="1250" r="10" fill="#bb1010" stroke="none"/>
<circle cx="1206" cy="1316" r="10" fill="#bb1010" stroke="none"/>
<circle cx="347" cy="958" r="8" fill="#bb1010" stroke="none"/>
<circle cx="342" cy="1075" r="8" fill="#bb1010" stroke="none"/>
<circle cx="787" cy="1081" r="8" fill="#bb1010" stroke="none"/>
<circle cx="903" cy="894" r="8" fill="#bb1010" stroke="none"/>
<circle cx="1054" cy="807" r="8" fill="#bb1010" stroke="none"/>
<circle cx="1085" cy="869" r="7" fill="#bb1010" stroke="none"/>
<circle cx="1310" cy="424" r="8" fill="#bb1010" stroke="none"/>
<circle cx="1298" cy="537" r="7" fill="#bb1010" stroke="none"/>
<circle cx="1072" cy="975" r="10" fill="#bb1010" stroke="none"/>
<circle cx="1169" cy="968" r="8" fill="#bb1010" stroke="none"/>
<circle cx="1279" cy="1054" r="7" fill="#bb1010" stroke="none"/>
<circle cx="589" cy="1326" r="6" fill="#bb1010" stroke="none"/>
</g></g></g>
<rect x="503.1" y="1126.4" width="252.7" height="252.8" fill="#000"/>
<g clip-path="url(#cp1)"><g transform="translate(502 1126) scale(0.18893)" fill="none" stroke-linecap="round" stroke-linejoin="round">
<g opacity="0.35">
<path d="M10 170C22 174 57 188 80 195C103 202 127 208 150 215C173 222 202 231 220 240C238 249 253 265 260 270" stroke="#700000" stroke-width="33.5"/>
<path d="M10 150C25 157 68 190 100 190C132 190 167 159 200 150C233 141 270 132 300 135C330 138 357 154 380 170C403 186 417 212 440 230C463 248 487 268 520 280C553 292 607 295 640 300C673 305 693 305 720 310C747 315 778 320 800 330C822 340 833 357 850 370C867 383 875 398 900 410C925 422 970 432 1000 440C1030 448 1055 460 1080 460C1105 460 1127 453 1150 440C1173 427 1198 402 1220 380C1242 358 1260 332 1280 310C1300 288 1330 260 1340 250" stroke="#700000" stroke-width="26.1"/>
<path d="M260 10C265 22 283 59 290 80C297 101 298 126 300 135" stroke="#700000" stroke-width="20.5"/>
<path d="M640 300C650 293 680 275 700 260C720 245 738 223 760 210C782 197 810 195 830 180C850 165 860 137 880 120C900 103 922 90 950 80C978 70 1022 64 1050 60C1078 56 1087 62 1120 55C1153 48 1228 26 1250 20" stroke="#700000" stroke-width="26.1"/>
<path d="M850 90C850 108 850 165 850 200C850 235 848 270 850 300C852 330 855 353 860 380C865 407 878 430 880 460C882 490 880 528 870 560C860 592 838 622 820 650C802 678 780 705 760 730C740 755 720 780 700 800C680 820 663 840 640 850C617 860 588 862 560 860C532 858 497 843 470 840C443 837 412 840 400 840" stroke="#700000" stroke-width="26.1"/>
<path d="M640 310C637 325 628 368 620 400C612 432 600 467 590 500C580 533 568 567 560 600C552 633 545 662 540 700C535 738 532 808 530 830" stroke="#700000" stroke-width="20.5"/>
<path d="M10 700C22 687 53 646 80 620C107 594 142 559 170 545C198 531 230 529 250 535C270 541 277 556 290 580C303 604 320 650 330 680C340 710 342 735 350 760C358 785 365 807 380 830C395 853 417 875 440 900C463 925 495 957 520 980C545 1003 570 1020 590 1040C610 1060 615 1088 640 1100C665 1112 707 1112 740 1110C773 1108 813 1090 840 1090C867 1090 877 1103 900 1110C923 1117 947 1125 980 1130C1013 1135 1063 1133 1100 1140C1137 1147 1163 1158 1200 1170C1237 1182 1300 1203 1320 1210" stroke="#700000" stroke-width="26.1"/>
<path d="M880 470C890 482 920 518 940 540C960 562 982 580 1000 600C1018 620 1050 643 1050 660C1050 677 1018 683 1000 700C982 717 960 743 940 760C920 777 903 790 880 800C857 810 830 815 800 820C770 825 717 828 700 830" stroke="#700000" stroke-width="26.1"/>
<path d="M1090 480C1090 500 1093 563 1090 600C1087 637 1075 667 1070 700C1065 733 1062 767 1060 800C1058 833 1057 867 1060 900C1063 933 1073 967 1080 1000C1087 1033 1093 1067 1100 1100C1107 1133 1113 1162 1120 1200C1127 1238 1137 1308 1140 1330" stroke="#700000" stroke-width="20.5"/>
<path d="M1070 690C1083 695 1120 710 1150 720C1180 730 1218 732 1250 750C1282 768 1325 817 1340 830" stroke="#700000" stroke-width="20.5"/>
<path d="M10 950C22 952 57 952 80 960C103 968 122 990 150 1000C178 1010 212 1015 250 1020C288 1025 358 1028 380 1030" stroke="#700000" stroke-width="27.9"/>
<path d="M20 1080C28 1087 57 1100 70 1120C83 1140 97 1177 100 1200C103 1223 97 1243 90 1260C83 1277 65 1293 60 1300" stroke="#700000" stroke-width="22.4"/>
<path d="M1200 180C1208 192 1238 227 1250 250C1262 273 1272 295 1270 320C1268 345 1252 378 1240 400C1228 422 1220 435 1200 450C1180 465 1133 483 1120 490" stroke="#700000" stroke-width="24.2"/>
<path d="M30 620C45 612 95 582 120 570C145 558 170 553 180 550" stroke="#700000" stroke-width="20.5"/>
<path d="M940 280C958 278 1015 272 1050 270C1085 268 1125 268 1150 270C1175 272 1192 278 1200 280" stroke="#700000" stroke-width="16.8"/>
<path d="M150 900C158 892 183 860 200 850C217 840 242 842 250 840" stroke="#700000" stroke-width="18.6"/>
<path d="M10 120C18 125 42 137 60 150C78 163 110 192 120 200" stroke="#700000" stroke-width="24.2"/>
<path d="M20 230C33 230 73 225 100 230C127 235 167 255 180 260" stroke="#700000" stroke-width="20.5"/>
</g>
<rect x="60" y="160" width="180" height="80" fill="#ff0000" opacity="0.063" stroke="none" filter="url(#hz)"/>
<g filter="url(#gl)">
<path d="M10 170C22 174 57 188 80 195C103 202 127 208 150 215C173 222 202 231 220 240C238 249 253 265 260 270" stroke="#e81616" stroke-width="15.2"/>
<path d="M10 150C25 157 68 190 100 190C132 190 167 159 200 150C233 141 270 132 300 135C330 138 357 154 380 170C403 186 417 212 440 230C463 248 487 268 520 280C553 292 607 295 640 300C673 305 693 305 720 310C747 315 778 320 800 330C822 340 833 357 850 370C867 383 875 398 900 410C925 422 970 432 1000 440C1030 448 1055 460 1080 460C1105 460 1127 453 1150 440C1173 427 1198 402 1220 380C1242 358 1260 332 1280 310C1300 288 1330 260 1340 250" stroke="#e81616" stroke-width="11.9"/>
<path d="M260 10C265 22 283 59 290 80C297 101 298 126 300 135" stroke="#bb1010" stroke-width="9.3"/>
<path d="M640 300C650 293 680 275 700 260C720 245 738 223 760 210C782 197 810 195 830 180C850 165 860 137 880 120C900 103 922 90 950 80C978 70 1022 64 1050 60C1078 56 1087 62 1120 55C1153 48 1228 26 1250 20" stroke="#e81616" stroke-width="11.9"/>
<path d="M850 90C850 108 850 165 850 200C850 235 848 270 850 300C852 330 855 353 860 380C865 407 878 430 880 460C882 490 880 528 870 560C860 592 838 622 820 650C802 678 780 705 760 730C740 755 720 780 700 800C680 820 663 840 640 850C617 860 588 862 560 860C532 858 497 843 470 840C443 837 412 840 400 840" stroke="#e81616" stroke-width="11.9"/>
<path d="M640 310C637 325 628 368 620 400C612 432 600 467 590 500C580 533 568 567 560 600C552 633 545 662 540 700C535 738 532 808 530 830" stroke="#bb1010" stroke-width="9.3"/>
<path d="M10 700C22 687 53 646 80 620C107 594 142 559 170 545C198 531 230 529 250 535C270 541 277 556 290 580C303 604 320 650 330 680C340 710 342 735 350 760C358 785 365 807 380 830C395 853 417 875 440 900C463 925 495 957 520 980C545 1003 570 1020 590 1040C610 1060 615 1088 640 1100C665 1112 707 1112 740 1110C773 1108 813 1090 840 1090C867 1090 877 1103 900 1110C923 1117 947 1125 980 1130C1013 1135 1063 1133 1100 1140C1137 1147 1163 1158 1200 1170C1237 1182 1300 1203 1320 1210" stroke="#e81616" stroke-width="11.9"/>
<path d="M880 470C890 482 920 518 940 540C960 562 982 580 1000 600C1018 620 1050 643 1050 660C1050 677 1018 683 1000 700C982 717 960 743 940 760C920 777 903 790 880 800C857 810 830 815 800 820C770 825 717 828 700 830" stroke="#e81616" stroke-width="11.9"/>
<path d="M1090 480C1090 500 1093 563 1090 600C1087 637 1075 667 1070 700C1065 733 1062 767 1060 800C1058 833 1057 867 1060 900C1063 933 1073 967 1080 1000C1087 1033 1093 1067 1100 1100C1107 1133 1113 1162 1120 1200C1127 1238 1137 1308 1140 1330" stroke="#bb1010" stroke-width="9.3"/>
<path d="M1070 690C1083 695 1120 710 1150 720C1180 730 1218 732 1250 750C1282 768 1325 817 1340 830" stroke="#bb1010" stroke-width="9.3"/>
<path d="M10 950C22 952 57 952 80 960C103 968 122 990 150 1000C178 1010 212 1015 250 1020C288 1025 358 1028 380 1030" stroke="#e81616" stroke-width="12.7"/>
<path d="M20 1080C28 1087 57 1100 70 1120C83 1140 97 1177 100 1200C103 1223 97 1243 90 1260C83 1277 65 1293 60 1300" stroke="#bb1010" stroke-width="10.2"/>
<path d="M1200 180C1208 192 1238 227 1250 250C1262 273 1272 295 1270 320C1268 345 1252 378 1240 400C1228 422 1220 435 1200 450C1180 465 1133 483 1120 490" stroke="#e81616" stroke-width="11.0"/>
<path d="M30 620C45 612 95 582 120 570C145 558 170 553 180 550" stroke="#bb1010" stroke-width="9.3"/>
<path d="M940 280C958 278 1015 272 1050 270C1085 268 1125 268 1150 270C1175 272 1192 278 1200 280" stroke="#800b0b" stroke-width="7.6"/>
<path d="M150 900C158 892 183 860 200 850C217 840 242 842 250 840" stroke="#bb1010" stroke-width="8.5"/>
<path d="M10 120C18 125 42 137 60 150C78 163 110 192 120 200" stroke="#e81616" stroke-width="11.0"/>
<path d="M20 230C33 230 73 225 100 230C127 235 167 255 180 260" stroke="#e81616" stroke-width="9.3"/>
<circle cx="120" cy="207" r="12" fill="#e81616" stroke="none"/>
<circle cx="152" cy="169" r="10" fill="#e81616" stroke="none"/>
<circle cx="295" cy="136" r="13" fill="#e81616" stroke="none"/>
<circle cx="369" cy="165" r="11" fill="#e81616" stroke="none"/>
<circle cx="397" cy="187" r="12" fill="#e81616" stroke="none"/>
<circle cx="781" cy="325" r="13" fill="#e81616" stroke="none"/>
<circle cx="900" cy="410" r="9" fill="#e81616" stroke="none"/>
<circle cx="1106" cy="453" r="13" fill="#e81616" stroke="none"/>
<circle cx="1188" cy="407" r="10" fill="#e81616" stroke="none"/>
<circle cx="1255" cy="339" r="12" fill="#e81616" stroke="none"/>
<circle cx="1293" cy="297" r="10" fill="#e81616" stroke="none"/>
<circle cx="275" cy="45" r="10" fill="#bb1010" stroke="none"/>
<circle cx="800" cy="193" r="10" fill="#e81616" stroke="none"/>
<circle cx="934" cy="89" r="9" fill="#e81616" stroke="none"/>
<circle cx="1031" cy="64" r="13" fill="#e81616" stroke="none"/>
<circle cx="1079" cy="58" r="9" fill="#e81616" stroke="none"/>
<circle cx="1200" cy="33" r="9" fill="#e81616" stroke="none"/>
<circle cx="850" cy="140" r="9" fill="#e81616" stroke="none"/>
<circle cx="848" cy="599" r="8" fill="#e81616" stroke="none"/>
<circle cx="741" cy="752" r="9" fill="#e81616" stroke="none"/>
<circle cx="665" cy="829" r="10" fill="#e81616" stroke="none"/>
<circle cx="433" cy="840" r="13" fill="#e81616" stroke="none"/>
<circle cx="575" cy="549" r="8" fill="#bb1010" stroke="none"/>
<circle cx="552" cy="642" r="9" fill="#bb1010" stroke="none"/>
<circle cx="120" cy="587" r="13" fill="#e81616" stroke="none"/>
<circle cx="173" cy="545" r="8" fill="#e81616" stroke="none"/>
<circle cx="294" cy="589" r="9" fill="#e81616" stroke="none"/>
<circle cx="555" cy="1010" r="10" fill="#e81616" stroke="none"/>
<circle cx="879" cy="1103" r="13" fill="#e81616" stroke="none"/>
<circle cx="919" cy="1115" r="11" fill="#e81616" stroke="none"/>
<circle cx="948" cy="752" r="12" fill="#e81616" stroke="none"/>
<circle cx="807" cy="818" r="12" fill="#e81616" stroke="none"/>
<circle cx="1077" cy="667" r="7" fill="#bb1010" stroke="none"/>
<circle cx="1067" cy="935" r="7" fill="#bb1010" stroke="none"/>
<circle cx="1084" cy="1021" r="7" fill="#bb1010" stroke="none"/>
<circle cx="126" cy="987" r="12" fill="#e81616" stroke="none"/>
<circle cx="186" cy="1007" r="12" fill="#e81616" stroke="none"/>
<circle cx="50" cy="1104" r="11" fill="#bb1010" stroke="none"/>
<circle cx="77" cy="1277" r="7" fill="#bb1010" stroke="none"/>
<circle cx="1213" cy="198" r="10" fill="#e81616" stroke="none"/>
<circle cx="1212" cy="435" r="10" fill="#e81616" stroke="none"/>
<circle cx="70" cy="598" r="8" fill="#bb1010" stroke="none"/>
<circle cx="224" cy="845" r="8" fill="#bb1010" stroke="none"/>
<circle cx="163" cy="254" r="10" fill="#e81616" stroke="none"/>
</g></g></g>
<rect x="767.2" y="1126.4" width="255.2" height="252.8" fill="#000"/>
<g clip-path="url(#cp2)"><g transform="translate(767 1126) scale(0.18893)" fill="none" stroke-linecap="round" stroke-linejoin="round">
<g opacity="0.35">
<path d="M10 500C25 492 68 458 100 450C132 442 170 454 200 450C230 446 255 427 280 425C305 423 323 441 350 440C377 439 418 420 440 420C462 420 468 428 480 440C492 452 500 490 510 490C520 490 525 453 540 440C555 427 580 420 600 410C620 400 643 387 660 380C677 373 693 372 700 370" stroke="#700000" stroke-width="22.4"/>
<path d="M510 500C515 502 522 512 540 515C558 518 593 514 620 515C647 516 673 517 700 520C727 523 753 532 780 535C807 538 833 539 860 540C887 541 927 552 940 540C953 528 932 488 940 470C948 452 967 440 990 430C1013 420 1045 413 1080 410C1115 407 1163 410 1200 410C1237 410 1277 412 1300 410C1323 408 1333 402 1340 400" stroke="#700000" stroke-width="24.2"/>
<path d="M510 500C502 510 473 540 460 560C447 580 433 593 430 620C427 647 433 690 440 720C447 750 458 777 470 800C482 823 502 840 510 860C518 880 512 902 520 920C528 938 537 958 560 970C583 982 630 985 660 990C690 995 713 1003 740 1000C767 997 793 980 820 970C847 960 877 952 900 940C923 928 942 918 960 900C978 882 993 857 1010 830C1027 803 1042 768 1060 740C1078 712 1103 685 1120 660C1137 635 1148 610 1160 590C1172 570 1175 553 1190 540C1205 527 1230 522 1250 510C1270 498 1295 483 1310 470C1325 457 1335 437 1340 430" stroke="#700000" stroke-width="24.2"/>
<path d="M1340 20C1323 23 1263 33 1240 40C1217 47 1215 43 1200 60C1185 77 1167 117 1150 140C1133 163 1115 180 1100 200C1085 220 1072 240 1060 260C1048 280 1030 298 1030 320C1030 342 1050 370 1060 390C1070 410 1082 423 1090 440C1098 457 1097 475 1110 490C1123 505 1160 523 1170 530" stroke="#700000" stroke-width="26.1"/>
<path d="M980 10C983 18 1005 43 1000 60C995 77 965 93 950 110C935 127 917 143 910 160C903 177 915 192 910 210C905 228 890 255 880 270C870 285 855 295 850 300" stroke="#700000" stroke-width="26.1"/>
<path d="M1000 60C1008 57 1033 43 1050 40C1067 37 1075 43 1100 40C1125 37 1183 23 1200 20" stroke="#700000" stroke-width="24.2"/>
<path d="M930 830C942 818 978 783 1000 760C1022 737 1043 710 1060 690C1077 670 1085 655 1100 640C1115 625 1142 607 1150 600" stroke="#700000" stroke-width="20.5"/>
<path d="M520 880C527 872 545 845 560 830C575 815 602 797 610 790" stroke="#700000" stroke-width="16.8"/>
<path d="M830 470L840 540" stroke="#700000" stroke-width="16.8"/>
<path d="M1270 320C1272 328 1275 353 1280 370C1285 387 1297 412 1300 420" stroke="#700000" stroke-width="18.6"/>
<path d="M150 1200C168 1192 222 1165 260 1150C298 1135 337 1123 380 1110C423 1097 483 1078 520 1070C557 1062 570 1058 600 1060C630 1062 670 1070 700 1080C730 1090 755 1108 780 1120C805 1132 838 1145 850 1150" stroke="#700000" stroke-width="18.6"/>
<path d="M760 1260C763 1267 770 1288 780 1300C790 1312 813 1325 820 1330" stroke="#700000" stroke-width="24.2"/>
<path d="M1130 1160C1133 1175 1143 1222 1150 1250C1157 1278 1167 1317 1170 1330" stroke="#700000" stroke-width="22.4"/>
<path d="M1190 1230L1200 1330" stroke="#700000" stroke-width="27.9"/>
<path d="M860 1290L900 1330" stroke="#700000" stroke-width="18.6"/>
<path d="M1050 1280L1080 1320" stroke="#700000" stroke-width="18.6"/>
<path d="M250 30C233 58 178 155 150 200C122 245 92 283 80 300" stroke="#700000" stroke-width="14.9"/>
<path d="M130 1130C138 1147 163 1198 180 1230C197 1262 222 1305 230 1320" stroke="#700000" stroke-width="14.9"/>
<path d="M1180 900L1120 1000" stroke="#700000" stroke-width="14.9"/>
</g>
<g filter="url(#gl)">
<path d="M10 500C25 492 68 458 100 450C132 442 170 454 200 450C230 446 255 427 280 425C305 423 323 441 350 440C377 439 418 420 440 420C462 420 468 428 480 440C492 452 500 490 510 490C520 490 525 453 540 440C555 427 580 420 600 410C620 400 643 387 660 380C677 373 693 372 700 370" stroke="#bb1010" stroke-width="10.2"/>
<path d="M510 500C515 502 522 512 540 515C558 518 593 514 620 515C647 516 673 517 700 520C727 523 753 532 780 535C807 538 833 539 860 540C887 541 927 552 940 540C953 528 932 488 940 470C948 452 967 440 990 430C1013 420 1045 413 1080 410C1115 407 1163 410 1200 410C1237 410 1277 412 1300 410C1323 408 1333 402 1340 400" stroke="#e81616" stroke-width="11.0"/>
<path d="M510 500C502 510 473 540 460 560C447 580 433 593 430 620C427 647 433 690 440 720C447 750 458 777 470 800C482 823 502 840 510 860C518 880 512 902 520 920C528 938 537 958 560 970C583 982 630 985 660 990C690 995 713 1003 740 1000C767 997 793 980 820 970C847 960 877 952 900 940C923 928 942 918 960 900C978 882 993 857 1010 830C1027 803 1042 768 1060 740C1078 712 1103 685 1120 660C1137 635 1148 610 1160 590C1172 570 1175 553 1190 540C1205 527 1230 522 1250 510C1270 498 1295 483 1310 470C1325 457 1335 437 1340 430" stroke="#e81616" stroke-width="11.0"/>
<path d="M1340 20C1323 23 1263 33 1240 40C1217 47 1215 43 1200 60C1185 77 1167 117 1150 140C1133 163 1115 180 1100 200C1085 220 1072 240 1060 260C1048 280 1030 298 1030 320C1030 342 1050 370 1060 390C1070 410 1082 423 1090 440C1098 457 1097 475 1110 490C1123 505 1160 523 1170 530" stroke="#e81616" stroke-width="11.9"/>
<path d="M980 10C983 18 1005 43 1000 60C995 77 965 93 950 110C935 127 917 143 910 160C903 177 915 192 910 210C905 228 890 255 880 270C870 285 855 295 850 300" stroke="#e81616" stroke-width="11.9"/>
<path d="M1000 60C1008 57 1033 43 1050 40C1067 37 1075 43 1100 40C1125 37 1183 23 1200 20" stroke="#e81616" stroke-width="11.0"/>
<path d="M930 830C942 818 978 783 1000 760C1022 737 1043 710 1060 690C1077 670 1085 655 1100 640C1115 625 1142 607 1150 600" stroke="#bb1010" stroke-width="9.3"/>
<path d="M520 880C527 872 545 845 560 830C575 815 602 797 610 790" stroke="#bb1010" stroke-width="7.6"/>
<path d="M830 470L840 540" stroke="#bb1010" stroke-width="7.6"/>
<path d="M1270 320C1272 328 1275 353 1280 370C1285 387 1297 412 1300 420" stroke="#bb1010" stroke-width="8.5"/>
<path d="M150 1200C168 1192 222 1165 260 1150C298 1135 337 1123 380 1110C423 1097 483 1078 520 1070C557 1062 570 1058 600 1060C630 1062 670 1070 700 1080C730 1090 755 1108 780 1120C805 1132 838 1145 850 1150" stroke="#800b0b" stroke-width="8.5"/>
<path d="M760 1260C763 1267 770 1288 780 1300C790 1312 813 1325 820 1330" stroke="#e81616" stroke-width="11.0"/>
<path d="M1130 1160C1133 1175 1143 1222 1150 1250C1157 1278 1167 1317 1170 1330" stroke="#e81616" stroke-width="10.2"/>
<path d="M1190 1230L1200 1330" stroke="#e81616" stroke-width="12.7"/>
<path d="M860 1290L900 1330" stroke="#bb1010" stroke-width="8.5"/>
<path d="M1050 1280L1080 1320" stroke="#bb1010" stroke-width="8.5"/>
<path d="M250 30C233 58 178 155 150 200C122 245 92 283 80 300" stroke="#800b0b" stroke-width="6.8"/>
<path d="M130 1130C138 1147 163 1198 180 1230C197 1262 222 1305 230 1320" stroke="#800b0b" stroke-width="6.8"/>
<path d="M1180 900L1120 1000" stroke="#800b0b" stroke-width="6.8"/>
<circle cx="334" cy="436" r="10" fill="#bb1010" stroke="none"/>
<circle cx="441" cy="421" r="9" fill="#bb1010" stroke="none"/>
<circle cx="525" cy="465" r="8" fill="#bb1010" stroke="none"/>
<circle cx="700" cy="370" r="7" fill="#bb1010" stroke="none"/>
<circle cx="676" cy="519" r="10" fill="#e81616" stroke="none"/>
<circle cx="823" cy="538" r="12" fill="#e81616" stroke="none"/>
<circle cx="940" cy="534" r="12" fill="#e81616" stroke="none"/>
<circle cx="1177" cy="410" r="11" fill="#e81616" stroke="none"/>
<circle cx="1315" cy="406" r="8" fill="#e81616" stroke="none"/>
<circle cx="431" cy="618" r="9" fill="#e81616" stroke="none"/>
<circle cx="492" cy="833" r="12" fill="#e81616" stroke="none"/>
<circle cx="531" cy="933" r="11" fill="#e81616" stroke="none"/>
<circle cx="620" cy="982" r="10" fill="#e81616" stroke="none"/>
<circle cx="793" cy="980" r="12" fill="#e81616" stroke="none"/>
<circle cx="847" cy="960" r="12" fill="#e81616" stroke="none"/>
<circle cx="960" cy="899" r="11" fill="#e81616" stroke="none"/>
<circle cx="1033" cy="788" r="9" fill="#e81616" stroke="none"/>
<circle cx="1162" cy="586" r="12" fill="#e81616" stroke="none"/>
<circle cx="1284" cy="487" r="11" fill="#e81616" stroke="none"/>
<circle cx="1332" cy="441" r="12" fill="#e81616" stroke="none"/>
<circle cx="1232" cy="44" r="9" fill="#e81616" stroke="none"/>
<circle cx="1194" cy="69" r="9" fill="#e81616" stroke="none"/>
<circle cx="1109" cy="486" r="9" fill="#e81616" stroke="none"/>
<circle cx="947" cy="114" r="9" fill="#e81616" stroke="none"/>
<circle cx="894" cy="242" r="10" fill="#e81616" stroke="none"/>
<circle cx="871" cy="279" r="12" fill="#e81616" stroke="none"/>
<circle cx="1074" cy="40" r="10" fill="#e81616" stroke="none"/>
<circle cx="998" cy="762" r="9" fill="#bb1010" stroke="none"/>
<circle cx="1019" cy="738" r="7" fill="#bb1010" stroke="none"/>
<circle cx="1061" cy="689" r="9" fill="#bb1010" stroke="none"/>
<circle cx="556" cy="835" r="6" fill="#bb1010" stroke="none"/>
<circle cx="780" cy="1300" r="11" fill="#e81616" stroke="none"/>
<circle cx="794" cy="1311" r="10" fill="#e81616" stroke="none"/>
<circle cx="1196" cy="1288" r="12" fill="#e81616" stroke="none"/>
<circle cx="1063" cy="1298" r="8" fill="#bb1010" stroke="none"/>
</g></g></g>
<rect x="1033.5" y="1126.4" width="255.4" height="252.8" fill="#000"/>
<g clip-path="url(#cp3)"><g transform="translate(1033 1126) scale(0.18893)" fill="none" stroke-linecap="round" stroke-linejoin="round">
<g opacity="0.35">
<path d="M420 250C410 257 383 275 360 290C337 305 302 322 280 340C258 358 240 380 230 400C220 420 217 438 220 460C223 482 237 510 250 530C263 550 278 567 300 580C322 593 352 602 380 610C408 618 445 632 470 630C495 628 512 615 530 600C548 585 563 562 580 540C597 518 617 493 630 470C643 447 652 425 660 400C668 375 670 343 680 320C690 297 703 273 720 260C737 247 757 245 780 240C803 235 832 230 860 230C888 230 920 235 950 240C980 245 1018 252 1040 260C1062 268 1065 278 1080 290C1095 302 1117 315 1130 330C1143 345 1155 372 1160 380" stroke="#700000" stroke-width="24.2"/>
<path d="M420 250C433 243 470 218 500 210C530 202 568 202 600 205C632 208 665 222 690 230C715 238 740 247 750 250" stroke="#700000" stroke-width="22.4"/>
<path d="M430 220C428 233 427 270 420 300C413 330 402 370 390 400C378 430 365 453 350 480C335 507 308 547 300 560" stroke="#700000" stroke-width="20.5"/>
<path d="M560 30C553 42 533 82 520 100C507 118 493 123 480 140C467 157 450 182 440 200C430 218 423 242 420 250" stroke="#700000" stroke-width="18.6"/>
<path d="M1040 260C1042 270 1047 300 1050 320C1053 340 1068 365 1060 380C1052 395 1023 403 1000 410C977 417 947 415 920 420C893 425 863 430 840 440C817 450 793 463 780 480C767 497 760 520 760 540C760 560 768 580 780 600C792 620 817 645 830 660C843 675 840 683 860 690C880 697 918 697 950 700C982 703 1017 708 1050 710C1083 712 1127 712 1150 710C1173 708 1183 702 1190 700" stroke="#700000" stroke-width="24.2"/>
<path d="M1190 250C1203 258 1247 282 1270 300C1293 318 1318 343 1330 360C1342 377 1347 387 1340 400C1333 413 1303 430 1290 440C1277 450 1267 443 1260 460C1253 477 1255 517 1250 540C1245 563 1237 580 1230 600C1223 620 1218 640 1210 660C1202 680 1190 700 1180 720C1170 740 1172 770 1150 780C1128 790 1077 787 1050 780C1023 773 1002 757 990 740C978 723 982 690 980 680" stroke="#700000" stroke-width="24.2"/>
<path d="M1140 350C1132 357 1107 377 1090 390C1073 403 1057 418 1040 430C1023 442 1002 445 990 460C978 475 973 497 970 520C967 543 968 573 970 600C972 627 977 647 980 680C983 713 990 755 990 800C990 845 983 908 980 950C977 992 972 1033 970 1050" stroke="#700000" stroke-width="22.4"/>
<path d="M850 690C845 697 825 712 820 730C815 748 813 782 820 800C827 818 847 827 860 840C873 853 892 863 900 880C908 897 913 925 910 940C907 955 893 962 880 970C867 978 847 980 830 990C813 1000 795 1015 780 1030C765 1045 747 1072 740 1080" stroke="#700000" stroke-width="22.4"/>
<path d="M830 690C813 688 758 678 730 680C702 682 680 688 660 700C640 712 623 730 610 750C597 770 588 795 580 820C572 845 565 873 560 900C555 927 552 967 550 980" stroke="#700000" stroke-width="22.4"/>
<path d="M1260 460C1268 470 1297 503 1310 520C1323 537 1337 538 1340 560C1343 582 1332 617 1330 650C1328 683 1332 725 1330 760C1328 795 1325 827 1320 860C1315 893 1307 928 1300 960C1293 992 1290 1027 1280 1050C1270 1073 1253 1078 1240 1100C1227 1122 1213 1158 1200 1180C1187 1202 1173 1213 1160 1230C1147 1247 1127 1272 1120 1280" stroke="#700000" stroke-width="24.2"/>
<path d="M1310 700C1300 710 1272 738 1250 760C1228 782 1197 813 1180 830C1163 847 1155 855 1150 860" stroke="#700000" stroke-width="18.6"/>
<path d="M1050 230C1058 215 1085 168 1100 140C1115 112 1133 73 1140 60" stroke="#700000" stroke-width="16.8"/>
<path d="M1220 130C1217 145 1208 188 1200 220C1192 252 1175 303 1170 320" stroke="#700000" stroke-width="16.8"/>
<path d="M100 130C117 125 158 112 200 100C242 88 325 67 350 60" stroke="#700000" stroke-width="14.9"/>
</g>
<g filter="url(#gl)">
<path d="M420 250C410 257 383 275 360 290C337 305 302 322 280 340C258 358 240 380 230 400C220 420 217 438 220 460C223 482 237 510 250 530C263 550 278 567 300 580C322 593 352 602 380 610C408 618 445 632 470 630C495 628 512 615 530 600C548 585 563 562 580 540C597 518 617 493 630 470C643 447 652 425 660 400C668 375 670 343 680 320C690 297 703 273 720 260C737 247 757 245 780 240C803 235 832 230 860 230C888 230 920 235 950 240C980 245 1018 252 1040 260C1062 268 1065 278 1080 290C1095 302 1117 315 1130 330C1143 345 1155 372 1160 380" stroke="#e81616" stroke-width="11.0"/>
<path d="M420 250C433 243 470 218 500 210C530 202 568 202 600 205C632 208 665 222 690 230C715 238 740 247 750 250" stroke="#e81616" stroke-width="10.2"/>
<path d="M430 220C428 233 427 270 420 300C413 330 402 370 390 400C378 430 365 453 350 480C335 507 308 547 300 560" stroke="#bb1010" stroke-width="9.3"/>
<path d="M560 30C553 42 533 82 520 100C507 118 493 123 480 140C467 157 450 182 440 200C430 218 423 242 420 250" stroke="#bb1010" stroke-width="8.5"/>
<path d="M1040 260C1042 270 1047 300 1050 320C1053 340 1068 365 1060 380C1052 395 1023 403 1000 410C977 417 947 415 920 420C893 425 863 430 840 440C817 450 793 463 780 480C767 497 760 520 760 540C760 560 768 580 780 600C792 620 817 645 830 660C843 675 840 683 860 690C880 697 918 697 950 700C982 703 1017 708 1050 710C1083 712 1127 712 1150 710C1173 708 1183 702 1190 700" stroke="#e81616" stroke-width="11.0"/>
<path d="M1190 250C1203 258 1247 282 1270 300C1293 318 1318 343 1330 360C1342 377 1347 387 1340 400C1333 413 1303 430 1290 440C1277 450 1267 443 1260 460C1253 477 1255 517 1250 540C1245 563 1237 580 1230 600C1223 620 1218 640 1210 660C1202 680 1190 700 1180 720C1170 740 1172 770 1150 780C1128 790 1077 787 1050 780C1023 773 1002 757 990 740C978 723 982 690 980 680" stroke="#e81616" stroke-width="11.0"/>
<path d="M1140 350C1132 357 1107 377 1090 390C1073 403 1057 418 1040 430C1023 442 1002 445 990 460C978 475 973 497 970 520C967 543 968 573 970 600C972 627 977 647 980 680C983 713 990 755 990 800C990 845 983 908 980 950C977 992 972 1033 970 1050" stroke="#e81616" stroke-width="10.2"/>
<path d="M850 690C845 697 825 712 820 730C815 748 813 782 820 800C827 818 847 827 860 840C873 853 892 863 900 880C908 897 913 925 910 940C907 955 893 962 880 970C867 978 847 980 830 990C813 1000 795 1015 780 1030C765 1045 747 1072 740 1080" stroke="#e81616" stroke-width="10.2"/>
<path d="M830 690C813 688 758 678 730 680C702 682 680 688 660 700C640 712 623 730 610 750C597 770 588 795 580 820C572 845 565 873 560 900C555 927 552 967 550 980" stroke="#e81616" stroke-width="10.2"/>
<path d="M1260 460C1268 470 1297 503 1310 520C1323 537 1337 538 1340 560C1343 582 1332 617 1330 650C1328 683 1332 725 1330 760C1328 795 1325 827 1320 860C1315 893 1307 928 1300 960C1293 992 1290 1027 1280 1050C1270 1073 1253 1078 1240 1100C1227 1122 1213 1158 1200 1180C1187 1202 1173 1213 1160 1230C1147 1247 1127 1272 1120 1280" stroke="#e81616" stroke-width="11.0"/>
<path d="M1310 700C1300 710 1272 738 1250 760C1228 782 1197 813 1180 830C1163 847 1155 855 1150 860" stroke="#bb1010" stroke-width="8.5"/>
<path d="M1050 230C1058 215 1085 168 1100 140C1115 112 1133 73 1140 60" stroke="#bb1010" stroke-width="7.6"/>
<path d="M1220 130C1217 145 1208 188 1200 220C1192 252 1175 303 1170 320" stroke="#bb1010" stroke-width="7.6"/>
<path d="M100 130C117 125 158 112 200 100C242 88 325 67 350 60" stroke="#800b0b" stroke-width="6.8"/>
<circle cx="230" cy="400" r="9" fill="#e81616" stroke="none"/>
<circle cx="243" cy="513" r="8" fill="#e81616" stroke="none"/>
<circle cx="522" cy="604" r="12" fill="#e81616" stroke="none"/>
<circle cx="556" cy="569" r="12" fill="#e81616" stroke="none"/>
<circle cx="639" cy="449" r="12" fill="#e81616" stroke="none"/>
<circle cx="675" cy="339" r="11" fill="#e81616" stroke="none"/>
<circle cx="693" cy="300" r="9" fill="#e81616" stroke="none"/>
<circle cx="851" cy="231" r="12" fill="#e81616" stroke="none"/>
<circle cx="941" cy="239" r="8" fill="#e81616" stroke="none"/>
<circle cx="1010" cy="253" r="11" fill="#e81616" stroke="none"/>
<circle cx="479" cy="220" r="11" fill="#e81616" stroke="none"/>
<circle cx="549" cy="208" r="8" fill="#e81616" stroke="none"/>
<circle cx="643" cy="217" r="10" fill="#e81616" stroke="none"/>
<circle cx="425" cy="260" r="10" fill="#bb1010" stroke="none"/>
<circle cx="318" cy="530" r="7" fill="#bb1010" stroke="none"/>
<circle cx="448" cy="188" r="7" fill="#bb1010" stroke="none"/>
<circle cx="1052" cy="331" r="10" fill="#e81616" stroke="none"/>
<circle cx="1008" cy="406" r="9" fill="#e81616" stroke="none"/>
<circle cx="995" cy="411" r="10" fill="#e81616" stroke="none"/>
<circle cx="884" cy="429" r="11" fill="#e81616" stroke="none"/>
<circle cx="781" cy="480" r="11" fill="#e81616" stroke="none"/>
<circle cx="842" cy="672" r="9" fill="#e81616" stroke="none"/>
<circle cx="886" cy="693" r="9" fill="#e81616" stroke="none"/>
<circle cx="1211" cy="263" r="10" fill="#e81616" stroke="none"/>
<circle cx="1336" cy="385" r="12" fill="#e81616" stroke="none"/>
<circle cx="1321" cy="415" r="11" fill="#e81616" stroke="none"/>
<circle cx="1268" cy="454" r="9" fill="#e81616" stroke="none"/>
<circle cx="1255" cy="497" r="8" fill="#e81616" stroke="none"/>
<circle cx="1105" cy="780" r="8" fill="#e81616" stroke="none"/>
<circle cx="1001" cy="747" r="8" fill="#e81616" stroke="none"/>
<circle cx="995" cy="457" r="10" fill="#e81616" stroke="none"/>
<circle cx="986" cy="471" r="8" fill="#e81616" stroke="none"/>
<circle cx="978" cy="664" r="9" fill="#e81616" stroke="none"/>
<circle cx="983" cy="898" r="9" fill="#e81616" stroke="none"/>
<circle cx="820" cy="730" r="11" fill="#e81616" stroke="none"/>
<circle cx="828" cy="808" r="8" fill="#e81616" stroke="none"/>
<circle cx="899" cy="879" r="8" fill="#e81616" stroke="none"/>
<circle cx="891" cy="959" r="8" fill="#e81616" stroke="none"/>
<circle cx="843" cy="985" r="10" fill="#e81616" stroke="none"/>
<circle cx="769" cy="1044" r="7" fill="#e81616" stroke="none"/>
<circle cx="732" cy="680" r="9" fill="#e81616" stroke="none"/>
<circle cx="622" cy="738" r="10" fill="#e81616" stroke="none"/>
<circle cx="609" cy="753" r="8" fill="#e81616" stroke="none"/>
<circle cx="1272" cy="474" r="9" fill="#e81616" stroke="none"/>
<circle cx="1330" cy="686" r="9" fill="#e81616" stroke="none"/>
<circle cx="1255" cy="1082" r="10" fill="#e81616" stroke="none"/>
<circle cx="1191" cy="1191" r="11" fill="#e81616" stroke="none"/>
<circle cx="1244" cy="766" r="7" fill="#bb1010" stroke="none"/>
<circle cx="1072" cy="190" r="7" fill="#bb1010" stroke="none"/>
<circle cx="1104" cy="131" r="7" fill="#bb1010" stroke="none"/>
</g></g></g>
<rect x="236.4" y="1392.7" width="255.6" height="255.0" fill="#000"/>
<g clip-path="url(#cp4)"><g transform="translate(236 1392) scale(0.18893)" fill="none" stroke-linecap="round" stroke-linejoin="round">
<g opacity="0.35">
<path d="M10 60C15 70 25 102 40 120C55 138 73 158 100 170C127 182 167 183 200 190C233 197 270 202 300 210C330 218 360 228 380 240C400 252 405 263 420 280C435 297 452 320 470 340C488 360 510 380 530 400C550 420 572 440 590 460C608 480 622 498 640 520C658 542 680 567 700 590C720 613 738 638 760 660C782 682 810 700 830 720C850 740 865 760 880 780C895 800 908 817 920 840C932 863 940 897 950 920C960 943 968 960 980 980C992 1000 1005 1020 1020 1040C1035 1060 1053 1080 1070 1100C1087 1120 1103 1140 1120 1160C1137 1180 1157 1203 1170 1220C1183 1237 1195 1253 1200 1260" stroke="#700000" stroke-width="37.3"/>
<path d="M620 20C620 37 618 90 620 120C622 150 627 170 630 200C633 230 640 267 640 300C640 333 637 372 630 400C623 428 612 447 600 470C588 493 572 518 560 540C548 562 537 577 530 600C523 623 518 657 520 680C522 703 528 720 540 740C552 760 578 780 590 800C602 820 610 838 610 860C610 882 602 908 590 930C578 952 560 972 540 990C520 1008 490 1025 470 1040C450 1055 435 1060 420 1080C405 1100 397 1137 380 1160C363 1183 338 1200 320 1220C302 1240 282 1260 270 1280C258 1300 253 1330 250 1340" stroke="#700000" stroke-width="29.8"/>
<path d="M820 20C813 32 792 72 780 90C768 108 757 112 750 130C743 148 742 172 740 200C738 228 742 270 740 300C738 330 733 353 730 380C727 407 722 447 720 460" stroke="#700000" stroke-width="24.2"/>
<path d="M540 20C553 27 593 47 620 60C647 73 677 90 700 100C723 110 737 110 760 120C783 130 817 145 840 160C863 175 880 195 900 210C920 225 942 237 960 250C978 263 993 268 1010 290C1027 312 1047 352 1060 380C1073 408 1082 437 1090 460C1098 483 1102 497 1110 520C1118 543 1128 577 1140 600C1152 623 1165 637 1180 660C1195 683 1213 717 1230 740C1247 763 1272 790 1280 800" stroke="#700000" stroke-width="27.9"/>
<path d="M1330 30C1315 35 1268 47 1240 60C1212 73 1187 92 1160 110C1133 128 1105 152 1080 170C1055 188 1030 205 1010 220C990 235 968 253 960 260" stroke="#700000" stroke-width="24.2"/>
<path d="M1320 60C1322 80 1335 145 1330 180C1325 215 1302 240 1290 270C1278 300 1267 330 1260 360C1253 390 1250 423 1250 450C1250 477 1255 495 1260 520C1265 545 1273 573 1280 600C1287 627 1295 653 1300 680C1305 707 1310 735 1310 760C1310 785 1307 807 1300 830C1293 853 1283 877 1270 900C1257 923 1237 948 1220 970C1203 992 1188 1008 1170 1030C1152 1052 1120 1088 1110 1100" stroke="#700000" stroke-width="24.2"/>
<path d="M640 520C653 515 693 494 720 490C747 486 773 492 800 495C827 498 852 502 880 510C908 518 955 539 970 545" stroke="#700000" stroke-width="24.2"/>
<path d="M650 360C662 358 692 352 720 350C748 348 790 347 820 350C850 353 877 360 900 370C923 380 943 397 960 410C977 423 993 443 1000 450" stroke="#700000" stroke-width="22.4"/>
<path d="M800 460C808 453 833 432 850 420C867 408 892 395 900 390" stroke="#700000" stroke-width="18.6"/>
<path d="M80 200C82 217 88 267 90 300C92 333 90 383 90 400" stroke="#700000" stroke-width="24.2"/>
<path d="M1100 490C1110 488 1138 483 1160 480C1182 477 1210 468 1230 470C1250 472 1272 487 1280 490" stroke="#700000" stroke-width="20.5"/>
<path d="M1120 640C1110 653 1073 693 1060 720C1047 747 1045 773 1040 800C1035 827 1038 853 1030 880C1022 907 997 947 990 960" stroke="#700000" stroke-width="16.8"/>
<path d="M580 560L590 680" stroke="#700000" stroke-width="18.6"/>
<path d="M200 190L230 260" stroke="#700000" stroke-width="20.5"/>
<path d="M380 240L440 180" stroke="#700000" stroke-width="20.5"/>
<path d="M960 1000C963 1017 973 1070 980 1100C987 1130 997 1167 1000 1180" stroke="#700000" stroke-width="14.9"/>
<path d="M10 20C15 32 28 68 40 90C52 112 73 140 80 150" stroke="#700000" stroke-width="31.7"/>
<path d="M120 160C130 153 157 125 180 120C203 115 235 125 260 130C285 135 318 147 330 150" stroke="#700000" stroke-width="20.5"/>
<path d="M420 280C430 275 460 255 480 250C500 245 530 250 540 250" stroke="#700000" stroke-width="18.6"/>
</g>
<rect x="60" y="60" width="380" height="330" fill="#ff0000" opacity="0.077" stroke="none" filter="url(#hz)"/>
<g filter="url(#gl)">
<path d="M10 60C15 70 25 102 40 120C55 138 73 158 100 170C127 182 167 183 200 190C233 197 270 202 300 210C330 218 360 228 380 240C400 252 405 263 420 280C435 297 452 320 470 340C488 360 510 380 530 400C550 420 572 440 590 460C608 480 622 498 640 520C658 542 680 567 700 590C720 613 738 638 760 660C782 682 810 700 830 720C850 740 865 760 880 780C895 800 908 817 920 840C932 863 940 897 950 920C960 943 968 960 980 980C992 1000 1005 1020 1020 1040C1035 1060 1053 1080 1070 1100C1087 1120 1103 1140 1120 1160C1137 1180 1157 1203 1170 1220C1183 1237 1195 1253 1200 1260" stroke="#e81616" stroke-width="16.9"/>
<path d="M620 20C620 37 618 90 620 120C622 150 627 170 630 200C633 230 640 267 640 300C640 333 637 372 630 400C623 428 612 447 600 470C588 493 572 518 560 540C548 562 537 577 530 600C523 623 518 657 520 680C522 703 528 720 540 740C552 760 578 780 590 800C602 820 610 838 610 860C610 882 602 908 590 930C578 952 560 972 540 990C520 1008 490 1025 470 1040C450 1055 435 1060 420 1080C405 1100 397 1137 380 1160C363 1183 338 1200 320 1220C302 1240 282 1260 270 1280C258 1300 253 1330 250 1340" stroke="#e81616" stroke-width="13.6"/>
<path d="M820 20C813 32 792 72 780 90C768 108 757 112 750 130C743 148 742 172 740 200C738 228 742 270 740 300C738 330 733 353 730 380C727 407 722 447 720 460" stroke="#e81616" stroke-width="11.0"/>
<path d="M540 20C553 27 593 47 620 60C647 73 677 90 700 100C723 110 737 110 760 120C783 130 817 145 840 160C863 175 880 195 900 210C920 225 942 237 960 250C978 263 993 268 1010 290C1027 312 1047 352 1060 380C1073 408 1082 437 1090 460C1098 483 1102 497 1110 520C1118 543 1128 577 1140 600C1152 623 1165 637 1180 660C1195 683 1213 717 1230 740C1247 763 1272 790 1280 800" stroke="#e81616" stroke-width="12.7"/>
<path d="M1330 30C1315 35 1268 47 1240 60C1212 73 1187 92 1160 110C1133 128 1105 152 1080 170C1055 188 1030 205 1010 220C990 235 968 253 960 260" stroke="#e81616" stroke-width="11.0"/>
<path d="M1320 60C1322 80 1335 145 1330 180C1325 215 1302 240 1290 270C1278 300 1267 330 1260 360C1253 390 1250 423 1250 450C1250 477 1255 495 1260 520C1265 545 1273 573 1280 600C1287 627 1295 653 1300 680C1305 707 1310 735 1310 760C1310 785 1307 807 1300 830C1293 853 1283 877 1270 900C1257 923 1237 948 1220 970C1203 992 1188 1008 1170 1030C1152 1052 1120 1088 1110 1100" stroke="#e81616" stroke-width="11.0"/>
<path d="M640 520C653 515 693 494 720 490C747 486 773 492 800 495C827 498 852 502 880 510C908 518 955 539 970 545" stroke="#e81616" stroke-width="11.0"/>
<path d="M650 360C662 358 692 352 720 350C748 348 790 347 820 350C850 353 877 360 900 370C923 380 943 397 960 410C977 423 993 443 1000 450" stroke="#bb1010" stroke-width="10.2"/>
<path d="M800 460C808 453 833 432 850 420C867 408 892 395 900 390" stroke="#bb1010" stroke-width="8.5"/>
<path d="M80 200C82 217 88 267 90 300C92 333 90 383 90 400" stroke="#e81616" stroke-width="11.0"/>
<path d="M1100 490C1110 488 1138 483 1160 480C1182 477 1210 468 1230 470C1250 472 1272 487 1280 490" stroke="#bb1010" stroke-width="9.3"/>
<path d="M1120 640C1110 653 1073 693 1060 720C1047 747 1045 773 1040 800C1035 827 1038 853 1030 880C1022 907 997 947 990 960" stroke="#bb1010" stroke-width="7.6"/>
<path d="M580 560L590 680" stroke="#bb1010" stroke-width="8.5"/>
<path d="M200 190L230 260" stroke="#e81616" stroke-width="9.3"/>
<path d="M380 240L440 180" stroke="#e81616" stroke-width="9.3"/>
<path d="M960 1000C963 1017 973 1070 980 1100C987 1130 997 1167 1000 1180" stroke="#800b0b" stroke-width="6.8"/>
<path d="M10 20C15 32 28 68 40 90C52 112 73 140 80 150" stroke="#e81616" stroke-width="14.4"/>
<path d="M120 160C130 153 157 125 180 120C203 115 235 125 260 130C285 135 318 147 330 150" stroke="#bb1010" stroke-width="9.3"/>
<path d="M420 280C430 275 460 255 480 250C500 245 530 250 540 250" stroke="#bb1010" stroke-width="8.5"/>
<circle cx="13" cy="67" r="15" fill="#e81616" stroke="none"/>
<circle cx="111" cy="172" r="13" fill="#e81616" stroke="none"/>
<circle cx="359" cy="232" r="16" fill="#e81616" stroke="none"/>
<circle cx="401" cy="261" r="15" fill="#e81616" stroke="none"/>
<circle cx="470" cy="340" r="12" fill="#e81616" stroke="none"/>
<circle cx="526" cy="396" r="15" fill="#e81616" stroke="none"/>
<circle cx="550" cy="420" r="14" fill="#e81616" stroke="none"/>
<circle cx="653" cy="535" r="16" fill="#e81616" stroke="none"/>
<circle cx="888" cy="792" r="18" fill="#e81616" stroke="none"/>
<circle cx="972" cy="964" r="18" fill="#e81616" stroke="none"/>
<circle cx="1060" cy="1088" r="17" fill="#e81616" stroke="none"/>
<circle cx="1102" cy="1138" r="13" fill="#e81616" stroke="none"/>
<circle cx="1137" cy="1180" r="14" fill="#e81616" stroke="none"/>
<circle cx="1189" cy="1246" r="18" fill="#e81616" stroke="none"/>
<circle cx="625" cy="412" r="13" fill="#e81616" stroke="none"/>
<circle cx="528" cy="615" r="14" fill="#e81616" stroke="none"/>
<circle cx="598" cy="824" r="14" fill="#e81616" stroke="none"/>
<circle cx="508" cy="1013" r="14" fill="#e81616" stroke="none"/>
<circle cx="431" cy="1072" r="13" fill="#e81616" stroke="none"/>
<circle cx="416" cy="1088" r="15" fill="#e81616" stroke="none"/>
<circle cx="368" cy="1172" r="11" fill="#e81616" stroke="none"/>
<circle cx="740" cy="237" r="10" fill="#e81616" stroke="none"/>
<circle cx="729" cy="389" r="8" fill="#e81616" stroke="none"/>
<circle cx="886" cy="198" r="14" fill="#e81616" stroke="none"/>
<circle cx="901" cy="210" r="11" fill="#e81616" stroke="none"/>
<circle cx="969" cy="257" r="9" fill="#e81616" stroke="none"/>
<circle cx="1053" cy="368" r="9" fill="#e81616" stroke="none"/>
<circle cx="1094" cy="472" r="13" fill="#e81616" stroke="none"/>
<circle cx="1116" cy="535" r="11" fill="#e81616" stroke="none"/>
<circle cx="1283" cy="46" r="11" fill="#e81616" stroke="none"/>
<circle cx="1004" cy="225" r="11" fill="#e81616" stroke="none"/>
<circle cx="1259" cy="510" r="8" fill="#e81616" stroke="none"/>
<circle cx="1263" cy="531" r="9" fill="#e81616" stroke="none"/>
<circle cx="1289" cy="634" r="11" fill="#e81616" stroke="none"/>
<circle cx="1302" cy="815" r="11" fill="#e81616" stroke="none"/>
<circle cx="1239" cy="943" r="12" fill="#e81616" stroke="none"/>
<circle cx="1210" cy="982" r="11" fill="#e81616" stroke="none"/>
<circle cx="1146" cy="1058" r="11" fill="#e81616" stroke="none"/>
<circle cx="656" cy="514" r="9" fill="#e81616" stroke="none"/>
<circle cx="776" cy="493" r="9" fill="#e81616" stroke="none"/>
<circle cx="902" cy="519" r="10" fill="#e81616" stroke="none"/>
<circle cx="911" cy="377" r="7" fill="#bb1010" stroke="none"/>
<circle cx="824" cy="441" r="6" fill="#bb1010" stroke="none"/>
<circle cx="869" cy="409" r="8" fill="#bb1010" stroke="none"/>
<circle cx="89" cy="291" r="10" fill="#e81616" stroke="none"/>
<circle cx="90" cy="378" r="9" fill="#e81616" stroke="none"/>
<circle cx="1114" cy="648" r="7" fill="#bb1010" stroke="none"/>
<circle cx="1053" cy="750" r="7" fill="#bb1010" stroke="none"/>
<circle cx="403" cy="217" r="9" fill="#e81616" stroke="none"/>
<circle cx="56" cy="115" r="15" fill="#e81616" stroke="none"/>
<circle cx="162" cy="132" r="7" fill="#bb1010" stroke="none"/>
<circle cx="479" cy="251" r="9" fill="#bb1010" stroke="none"/>
<circle cx="495" cy="250" r="8" fill="#bb1010" stroke="none"/>
</g></g></g>
<rect x="503.1" y="1392.7" width="252.7" height="255.0" fill="#000"/>
<g clip-path="url(#cp5)"><g transform="translate(502 1392) scale(0.18893)" fill="none" stroke-linecap="round" stroke-linejoin="round">
<g opacity="0.35">
<path d="M1280 20C1270 33 1240 70 1220 100C1200 130 1178 167 1160 200C1142 233 1128 267 1110 300C1092 333 1072 368 1050 400C1028 432 1002 462 980 490C958 518 937 543 920 570C903 597 893 625 880 650C867 675 855 695 840 720C825 745 807 773 790 800C773 827 755 857 740 880C725 903 717 920 700 940C683 960 663 980 640 1000C617 1020 587 1040 560 1060C533 1080 507 1102 480 1120C453 1138 427 1153 400 1170C373 1187 347 1205 320 1220C293 1235 267 1248 240 1260C213 1272 187 1282 160 1290C133 1298 93 1307 80 1310" stroke="#700000" stroke-width="27.9"/>
<path d="M10 370C25 375 72 382 100 400C128 418 157 455 180 480C203 505 220 527 240 550C260 573 283 600 300 620C317 640 342 655 340 670C338 685 303 693 290 710C277 727 268 747 260 770C252 793 238 825 240 850C242 875 262 895 270 920C278 945 290 973 290 1000C290 1027 278 1053 270 1080C262 1107 250 1132 240 1160C230 1188 218 1220 210 1250C202 1280 193 1325 190 1340" stroke="#700000" stroke-width="24.2"/>
<path d="M340 670C355 673 403 683 430 690C457 697 478 698 500 710C522 722 537 747 560 760C583 773 617 790 640 790C663 790 677 773 700 760C723 747 752 723 780 710C808 697 843 682 870 680C897 678 915 692 940 700C965 708 993 728 1020 730C1047 732 1073 715 1100 710C1127 705 1165 688 1180 700C1195 712 1183 753 1190 780C1197 807 1207 833 1220 860C1233 887 1250 910 1270 940C1290 970 1328 1023 1340 1040" stroke="#700000" stroke-width="24.2"/>
<path d="M480 680C493 673 533 653 560 640C587 627 613 612 640 600C667 588 707 575 720 570" stroke="#700000" stroke-width="22.4"/>
<path d="M10 940C25 947 68 967 100 980C132 993 167 1013 200 1020C233 1027 267 1022 300 1020C333 1018 367 1013 400 1010C433 1007 467 1005 500 1000C533 995 570 990 600 980C630 970 653 952 680 940C707 928 730 920 760 910C790 900 827 895 860 880C893 865 927 837 960 820C993 803 1025 788 1060 780C1095 772 1152 772 1170 770" stroke="#700000" stroke-width="26.1"/>
<path d="M330 1010C342 1022 382 1057 400 1080C418 1103 427 1127 440 1150C453 1173 460 1200 480 1220C500 1240 532 1255 560 1270C588 1285 623 1298 650 1310C677 1322 708 1335 720 1340" stroke="#700000" stroke-width="24.2"/>
<path d="M500 1000C503 1017 510 1072 520 1100C530 1128 540 1150 560 1170C580 1190 613 1203 640 1220C667 1237 693 1250 720 1270C747 1290 787 1328 800 1340" stroke="#700000" stroke-width="24.2"/>
<path d="M400 1150C417 1145 467 1135 500 1120C533 1105 567 1078 600 1060C633 1042 667 1023 700 1010C733 997 767 990 800 980C833 970 867 962 900 950C933 938 983 917 1000 910" stroke="#700000" stroke-width="27.9"/>
<path d="M30 1000C30 1017 32 1067 30 1100C28 1133 18 1160 20 1200C22 1240 37 1317 40 1340" stroke="#700000" stroke-width="27.9"/>
<path d="M1200 770C1212 767 1247 757 1270 750C1293 743 1328 733 1340 730" stroke="#700000" stroke-width="18.6"/>
<path d="M800 1280L840 1230" stroke="#700000" stroke-width="18.6"/>
<path d="M200 1200C210 1213 243 1257 260 1280C277 1303 293 1330 300 1340" stroke="#700000" stroke-width="24.2"/>
<path d="M200 1100C217 1098 270 1097 300 1090C330 1083 355 1073 380 1060C405 1047 438 1018 450 1010" stroke="#700000" stroke-width="20.5"/>
<path d="M100 1200C110 1192 137 1163 160 1150C183 1137 227 1125 240 1120" stroke="#700000" stroke-width="20.5"/>
<path d="M700 940C677 960 610 1022 560 1060C510 1098 453 1137 400 1170C347 1203 290 1237 240 1260C190 1283 123 1302 100 1310" stroke="#700000" stroke-width="39.1"/>
<path d="M240 1150C255 1158 300 1182 330 1200C360 1218 395 1237 420 1260C445 1283 470 1327 480 1340" stroke="#700000" stroke-width="22.4"/>
<path d="M100 1230C117 1233 162 1248 200 1250C238 1252 288 1248 330 1240C372 1232 430 1207 450 1200" stroke="#700000" stroke-width="22.4"/>
<path d="M300 1040C310 1050 347 1077 360 1100C373 1123 377 1167 380 1180" stroke="#700000" stroke-width="20.5"/>
</g>
<rect x="210" y="1010" width="480" height="285" fill="#ff0000" opacity="0.063" stroke="none" filter="url(#hz)"/>
<g filter="url(#gl)">
<path d="M1280 20C1270 33 1240 70 1220 100C1200 130 1178 167 1160 200C1142 233 1128 267 1110 300C1092 333 1072 368 1050 400C1028 432 1002 462 980 490C958 518 937 543 920 570C903 597 893 625 880 650C867 675 855 695 840 720C825 745 807 773 790 800C773 827 755 857 740 880C725 903 717 920 700 940C683 960 663 980 640 1000C617 1020 587 1040 560 1060C533 1080 507 1102 480 1120C453 1138 427 1153 400 1170C373 1187 347 1205 320 1220C293 1235 267 1248 240 1260C213 1272 187 1282 160 1290C133 1298 93 1307 80 1310" stroke="#e81616" stroke-width="12.7"/>
<path d="M10 370C25 375 72 382 100 400C128 418 157 455 180 480C203 505 220 527 240 550C260 573 283 600 300 620C317 640 342 655 340 670C338 685 303 693 290 710C277 727 268 747 260 770C252 793 238 825 240 850C242 875 262 895 270 920C278 945 290 973 290 1000C290 1027 278 1053 270 1080C262 1107 250 1132 240 1160C230 1188 218 1220 210 1250C202 1280 193 1325 190 1340" stroke="#e81616" stroke-width="11.0"/>
<path d="M340 670C355 673 403 683 430 690C457 697 478 698 500 710C522 722 537 747 560 760C583 773 617 790 640 790C663 790 677 773 700 760C723 747 752 723 780 710C808 697 843 682 870 680C897 678 915 692 940 700C965 708 993 728 1020 730C1047 732 1073 715 1100 710C1127 705 1165 688 1180 700C1195 712 1183 753 1190 780C1197 807 1207 833 1220 860C1233 887 1250 910 1270 940C1290 970 1328 1023 1340 1040" stroke="#e81616" stroke-width="11.0"/>
<path d="M480 680C493 673 533 653 560 640C587 627 613 612 640 600C667 588 707 575 720 570" stroke="#e81616" stroke-width="10.2"/>
<path d="M10 940C25 947 68 967 100 980C132 993 167 1013 200 1020C233 1027 267 1022 300 1020C333 1018 367 1013 400 1010C433 1007 467 1005 500 1000C533 995 570 990 600 980C630 970 653 952 680 940C707 928 730 920 760 910C790 900 827 895 860 880C893 865 927 837 960 820C993 803 1025 788 1060 780C1095 772 1152 772 1170 770" stroke="#e81616" stroke-width="11.9"/>
<path d="M330 1010C342 1022 382 1057 400 1080C418 1103 427 1127 440 1150C453 1173 460 1200 480 1220C500 1240 532 1255 560 1270C588 1285 623 1298 650 1310C677 1322 708 1335 720 1340" stroke="#e81616" stroke-width="11.0"/>
<path d="M500 1000C503 1017 510 1072 520 1100C530 1128 540 1150 560 1170C580 1190 613 1203 640 1220C667 1237 693 1250 720 1270C747 1290 787 1328 800 1340" stroke="#e81616" stroke-width="11.0"/>
<path d="M400 1150C417 1145 467 1135 500 1120C533 1105 567 1078 600 1060C633 1042 667 1023 700 1010C733 997 767 990 800 980C833 970 867 962 900 950C933 938 983 917 1000 910" stroke="#e81616" stroke-width="12.7"/>
<path d="M30 1000C30 1017 32 1067 30 1100C28 1133 18 1160 20 1200C22 1240 37 1317 40 1340" stroke="#e81616" stroke-width="12.7"/>
<path d="M1200 770C1212 767 1247 757 1270 750C1293 743 1328 733 1340 730" stroke="#bb1010" stroke-width="8.5"/>
<path d="M800 1280L840 1230" stroke="#bb1010" stroke-width="8.5"/>
<path d="M200 1200C210 1213 243 1257 260 1280C277 1303 293 1330 300 1340" stroke="#e81616" stroke-width="11.0"/>
<path d="M200 1100C217 1098 270 1097 300 1090C330 1083 355 1073 380 1060C405 1047 438 1018 450 1010" stroke="#e81616" stroke-width="9.3"/>
<path d="M100 1200C110 1192 137 1163 160 1150C183 1137 227 1125 240 1120" stroke="#bb1010" stroke-width="9.3"/>
<path d="M700 940C677 960 610 1022 560 1060C510 1098 453 1137 400 1170C347 1203 290 1237 240 1260C190 1283 123 1302 100 1310" stroke="#e81616" stroke-width="17.8"/>
<path d="M240 1150C255 1158 300 1182 330 1200C360 1218 395 1237 420 1260C445 1283 470 1327 480 1340" stroke="#e81616" stroke-width="10.2"/>
<path d="M100 1230C117 1233 162 1248 200 1250C238 1252 288 1248 330 1240C372 1232 430 1207 450 1200" stroke="#e81616" stroke-width="10.2"/>
<path d="M300 1040C310 1050 347 1077 360 1100C373 1123 377 1167 380 1180" stroke="#e81616" stroke-width="9.3"/>
<circle cx="1177" cy="172" r="9" fill="#e81616" stroke="none"/>
<circle cx="1074" cy="361" r="10" fill="#e81616" stroke="none"/>
<circle cx="1031" cy="424" r="11" fill="#e81616" stroke="none"/>
<circle cx="759" cy="849" r="12" fill="#e81616" stroke="none"/>
<circle cx="719" cy="912" r="9" fill="#e81616" stroke="none"/>
<circle cx="668" cy="972" r="12" fill="#e81616" stroke="none"/>
<circle cx="442" cy="1144" r="10" fill="#e81616" stroke="none"/>
<circle cx="178" cy="1283" r="10" fill="#e81616" stroke="none"/>
<circle cx="124" cy="1299" r="11" fill="#e81616" stroke="none"/>
<circle cx="34" cy="378" r="10" fill="#e81616" stroke="none"/>
<circle cx="202" cy="506" r="9" fill="#e81616" stroke="none"/>
<circle cx="330" cy="657" r="8" fill="#e81616" stroke="none"/>
<circle cx="262" cy="766" r="11" fill="#e81616" stroke="none"/>
<circle cx="262" cy="902" r="10" fill="#e81616" stroke="none"/>
<circle cx="243" cy="1152" r="12" fill="#e81616" stroke="none"/>
<circle cx="236" cy="1173" r="10" fill="#e81616" stroke="none"/>
<circle cx="393" cy="682" r="10" fill="#e81616" stroke="none"/>
<circle cx="508" cy="717" r="10" fill="#e81616" stroke="none"/>
<circle cx="783" cy="709" r="11" fill="#e81616" stroke="none"/>
<circle cx="947" cy="703" r="11" fill="#e81616" stroke="none"/>
<circle cx="1121" cy="707" r="10" fill="#e81616" stroke="none"/>
<circle cx="1183" cy="724" r="9" fill="#e81616" stroke="none"/>
<circle cx="1206" cy="822" r="12" fill="#e81616" stroke="none"/>
<circle cx="1255" cy="915" r="10" fill="#e81616" stroke="none"/>
<circle cx="1315" cy="1004" r="11" fill="#e81616" stroke="none"/>
<circle cx="513" cy="664" r="10" fill="#e81616" stroke="none"/>
<circle cx="575" cy="633" r="9" fill="#e81616" stroke="none"/>
<circle cx="128" cy="991" r="9" fill="#e81616" stroke="none"/>
<circle cx="462" cy="1004" r="9" fill="#e81616" stroke="none"/>
<circle cx="559" cy="988" r="10" fill="#e81616" stroke="none"/>
<circle cx="604" cy="978" r="11" fill="#e81616" stroke="none"/>
<circle cx="823" cy="891" r="9" fill="#e81616" stroke="none"/>
<circle cx="871" cy="874" r="12" fill="#e81616" stroke="none"/>
<circle cx="384" cy="1064" r="11" fill="#e81616" stroke="none"/>
<circle cx="437" cy="1145" r="10" fill="#e81616" stroke="none"/>
<circle cx="455" cy="1176" r="9" fill="#e81616" stroke="none"/>
<circle cx="598" cy="1287" r="10" fill="#e81616" stroke="none"/>
<circle cx="543" cy="1141" r="12" fill="#e81616" stroke="none"/>
<circle cx="628" cy="1213" r="11" fill="#e81616" stroke="none"/>
<circle cx="423" cy="1143" r="11" fill="#e81616" stroke="none"/>
<circle cx="508" cy="1115" r="11" fill="#e81616" stroke="none"/>
<circle cx="30" cy="1100" r="11" fill="#e81616" stroke="none"/>
<circle cx="40" cy="1340" r="13" fill="#e81616" stroke="none"/>
<circle cx="1203" cy="769" r="9" fill="#bb1010" stroke="none"/>
<circle cx="254" cy="1272" r="11" fill="#e81616" stroke="none"/>
<circle cx="111" cy="1191" r="7" fill="#bb1010" stroke="none"/>
<circle cx="224" cy="1126" r="10" fill="#bb1010" stroke="none"/>
<circle cx="670" cy="965" r="13" fill="#e81616" stroke="none"/>
<circle cx="423" cy="1154" r="13" fill="#e81616" stroke="none"/>
<circle cx="447" cy="1297" r="10" fill="#e81616" stroke="none"/>
<circle cx="128" cy="1236" r="9" fill="#e81616" stroke="none"/>
</g></g></g>
<rect x="767.2" y="1392.7" width="255.2" height="255.0" fill="#000"/>
<g clip-path="url(#cp6)"><g transform="translate(767 1392) scale(0.18893)" fill="none" stroke-linecap="round" stroke-linejoin="round">
<g opacity="0.35">
<path d="M10 280C22 282 60 280 80 290C100 300 115 318 130 340C145 362 157 390 170 420C183 450 193 490 210 520C227 550 250 577 270 600C290 623 310 640 330 660C350 680 372 700 390 720C408 740 425 762 440 780C455 798 467 810 480 830C493 850 513 888 520 900" stroke="#700000" stroke-width="24.2"/>
<path d="M300 600C308 588 330 552 350 530C370 508 402 480 420 470C438 460 443 462 460 470C477 478 502 503 520 520C538 537 563 547 570 570C577 593 552 635 560 660C568 685 597 702 620 720C643 738 672 763 700 770C728 777 763 758 790 760C817 762 833 773 860 780C887 787 935 797 950 800" stroke="#700000" stroke-width="24.2"/>
<path d="M660 760C653 770 637 808 620 820C603 832 580 833 560 830C540 827 510 805 500 800" stroke="#700000" stroke-width="20.5"/>
<path d="M300 300C302 308 317 333 310 350C303 367 280 390 260 400C240 410 208 405 190 410C172 415 157 427 150 430" stroke="#700000" stroke-width="20.5"/>
<path d="M30 20C32 33 37 70 40 100C43 130 52 167 50 200C48 233 35 263 30 300C25 337 18 383 20 420C22 457 38 487 40 520C42 553 33 587 30 620C27 653 18 687 20 720C22 753 33 787 40 820C47 853 55 887 60 920C65 953 72 987 70 1020C68 1053 53 1103 50 1120" stroke="#700000" stroke-width="27.9"/>
<path d="M100 250C102 272 108 338 110 380C112 422 112 460 110 500C108 540 98 583 100 620C102 657 120 687 120 720C120 753 107 787 100 820C93 853 83 903 80 920" stroke="#700000" stroke-width="27.9"/>
<path d="M60 940C75 930 123 897 150 880C177 863 197 842 220 840C243 838 263 860 290 870C317 880 352 895 380 900C408 905 447 900 460 900" stroke="#700000" stroke-width="27.9"/>
<path d="M60 940C75 948 118 975 150 990C182 1005 217 1018 250 1030C283 1042 320 1058 350 1060C380 1062 417 1043 430 1040" stroke="#700000" stroke-width="26.1"/>
<path d="M260 880C277 888 327 913 360 930C393 947 427 963 460 980C493 997 528 1017 560 1030C592 1043 620 1048 650 1060C680 1072 710 1085 740 1100C770 1115 803 1133 830 1150C857 1167 878 1185 900 1200C922 1215 935 1232 960 1240C985 1248 1018 1248 1050 1250C1082 1252 1117 1248 1150 1250C1183 1252 1218 1257 1250 1260C1282 1263 1325 1268 1340 1270" stroke="#700000" stroke-width="26.1"/>
<path d="M650 860C648 877 642 928 640 960C638 992 640 1035 640 1050" stroke="#700000" stroke-width="18.6"/>
<path d="M1080 580C1072 585 1043 593 1030 610C1017 627 1008 657 1000 680C992 703 980 722 980 750C980 778 995 820 1000 850C1005 880 1017 907 1010 930C1003 953 970 965 960 990C950 1015 950 1045 950 1080C950 1115 960 1157 960 1200C960 1243 952 1317 950 1340" stroke="#700000" stroke-width="22.4"/>
<path d="M1140 850C1130 858 1102 883 1080 900C1058 917 1030 935 1010 950C990 965 968 983 960 990" stroke="#700000" stroke-width="22.4"/>
<path d="M960 1240C975 1225 1023 1177 1050 1150C1077 1123 1095 1100 1120 1080C1145 1060 1170 1042 1200 1030C1230 1018 1277 1017 1300 1010C1323 1003 1333 993 1340 990" stroke="#700000" stroke-width="24.2"/>
<path d="M1340 960C1337 983 1327 1060 1320 1100C1313 1140 1308 1160 1300 1200C1292 1240 1275 1317 1270 1340" stroke="#700000" stroke-width="27.9"/>
<path d="M290 1120C290 1133 282 1177 290 1200C298 1223 318 1243 340 1260C362 1277 393 1287 420 1300C447 1313 487 1333 500 1340" stroke="#700000" stroke-width="24.2"/>
<path d="M330 1030C335 1047 348 1098 360 1130C372 1162 390 1185 400 1220C410 1255 417 1320 420 1340" stroke="#700000" stroke-width="24.2"/>
<path d="M20 1280C37 1278 90 1268 120 1270C150 1272 187 1287 200 1290" stroke="#700000" stroke-width="22.4"/>
<path d="M500 1160C517 1165 567 1180 600 1190C633 1200 673 1203 700 1220C727 1237 743 1270 760 1290C777 1310 793 1332 800 1340" stroke="#700000" stroke-width="24.2"/>
<path d="M640 1300C653 1290 693 1263 720 1240C747 1217 787 1173 800 1160" stroke="#700000" stroke-width="22.4"/>
<path d="M1180 1060C1187 1077 1207 1130 1220 1160C1233 1190 1253 1227 1260 1240" stroke="#700000" stroke-width="22.4"/>
<path d="M1200 1230C1208 1235 1233 1258 1250 1260C1267 1262 1292 1243 1300 1240" stroke="#700000" stroke-width="31.7"/>
<path d="M100 480C110 493 143 530 160 560C177 590 200 627 200 660C200 693 167 743 160 760" stroke="#700000" stroke-width="20.5"/>
<path d="M20 450C30 453 60 458 80 470C100 482 123 498 140 520C157 542 173 587 180 600" stroke="#700000" stroke-width="22.4"/>
<path d="M10 650C25 655 68 668 100 680C132 692 170 707 200 720C230 733 267 753 280 760" stroke="#700000" stroke-width="22.4"/>
<path d="M30 760C45 765 92 783 120 790C148 797 187 798 200 800" stroke="#700000" stroke-width="20.5"/>
<path d="M0 860C13 858 53 857 80 850C107 843 147 825 160 820" stroke="#700000" stroke-width="20.5"/>
<path d="M150 560C155 573 167 617 180 640C193 663 213 677 230 700C247 723 268 753 280 780C292 807 297 847 300 860" stroke="#700000" stroke-width="20.5"/>
<path d="M60 1000C72 1010 107 1040 130 1060C153 1080 180 1097 200 1120C220 1143 242 1187 250 1200" stroke="#700000" stroke-width="24.2"/>
<path d="M10 1180C22 1175 55 1150 80 1150C105 1150 137 1165 160 1180C183 1195 210 1230 220 1240" stroke="#700000" stroke-width="20.5"/>
<path d="M140 120C143 133 160 170 160 200C160 230 143 283 140 300" stroke="#700000" stroke-width="20.5"/>
<path d="M20 700C27 717 52 767 60 800C68 833 70 867 70 900C70 933 62 983 60 1000" stroke="#700000" stroke-width="31.7"/>
<path d="M150 700C158 713 182 753 200 780C218 807 250 847 260 860" stroke="#700000" stroke-width="22.4"/>
</g>
<rect x="60" y="310" width="230" height="985" fill="#ff0000" opacity="0.077" stroke="none" filter="url(#hz)"/>
<rect x="310" y="1160" width="530" height="135" fill="#ff0000" opacity="0.042" stroke="none" filter="url(#hz)"/>
<rect x="1210" y="1210" width="85" height="85" fill="#ff0000" opacity="0.070" stroke="none" filter="url(#hz)"/>
<g filter="url(#gl)">
<path d="M10 280C22 282 60 280 80 290C100 300 115 318 130 340C145 362 157 390 170 420C183 450 193 490 210 520C227 550 250 577 270 600C290 623 310 640 330 660C350 680 372 700 390 720C408 740 425 762 440 780C455 798 467 810 480 830C493 850 513 888 520 900" stroke="#e81616" stroke-width="11.0"/>
<path d="M300 600C308 588 330 552 350 530C370 508 402 480 420 470C438 460 443 462 460 470C477 478 502 503 520 520C538 537 563 547 570 570C577 593 552 635 560 660C568 685 597 702 620 720C643 738 672 763 700 770C728 777 763 758 790 760C817 762 833 773 860 780C887 787 935 797 950 800" stroke="#e81616" stroke-width="11.0"/>
<path d="M660 760C653 770 637 808 620 820C603 832 580 833 560 830C540 827 510 805 500 800" stroke="#bb1010" stroke-width="9.3"/>
<path d="M300 300C302 308 317 333 310 350C303 367 280 390 260 400C240 410 208 405 190 410C172 415 157 427 150 430" stroke="#bb1010" stroke-width="9.3"/>
<path d="M30 20C32 33 37 70 40 100C43 130 52 167 50 200C48 233 35 263 30 300C25 337 18 383 20 420C22 457 38 487 40 520C42 553 33 587 30 620C27 653 18 687 20 720C22 753 33 787 40 820C47 853 55 887 60 920C65 953 72 987 70 1020C68 1053 53 1103 50 1120" stroke="#e81616" stroke-width="12.7"/>
<path d="M100 250C102 272 108 338 110 380C112 422 112 460 110 500C108 540 98 583 100 620C102 657 120 687 120 720C120 753 107 787 100 820C93 853 83 903 80 920" stroke="#e81616" stroke-width="12.7"/>
<path d="M60 940C75 930 123 897 150 880C177 863 197 842 220 840C243 838 263 860 290 870C317 880 352 895 380 900C408 905 447 900 460 900" stroke="#e81616" stroke-width="12.7"/>
<path d="M60 940C75 948 118 975 150 990C182 1005 217 1018 250 1030C283 1042 320 1058 350 1060C380 1062 417 1043 430 1040" stroke="#e81616" stroke-width="11.9"/>
<path d="M260 880C277 888 327 913 360 930C393 947 427 963 460 980C493 997 528 1017 560 1030C592 1043 620 1048 650 1060C680 1072 710 1085 740 1100C770 1115 803 1133 830 1150C857 1167 878 1185 900 1200C922 1215 935 1232 960 1240C985 1248 1018 1248 1050 1250C1082 1252 1117 1248 1150 1250C1183 1252 1218 1257 1250 1260C1282 1263 1325 1268 1340 1270" stroke="#e81616" stroke-width="11.9"/>
<path d="M650 860C648 877 642 928 640 960C638 992 640 1035 640 1050" stroke="#bb1010" stroke-width="8.5"/>
<path d="M1080 580C1072 585 1043 593 1030 610C1017 627 1008 657 1000 680C992 703 980 722 980 750C980 778 995 820 1000 850C1005 880 1017 907 1010 930C1003 953 970 965 960 990C950 1015 950 1045 950 1080C950 1115 960 1157 960 1200C960 1243 952 1317 950 1340" stroke="#e81616" stroke-width="10.2"/>
<path d="M1140 850C1130 858 1102 883 1080 900C1058 917 1030 935 1010 950C990 965 968 983 960 990" stroke="#e81616" stroke-width="10.2"/>
<path d="M960 1240C975 1225 1023 1177 1050 1150C1077 1123 1095 1100 1120 1080C1145 1060 1170 1042 1200 1030C1230 1018 1277 1017 1300 1010C1323 1003 1333 993 1340 990" stroke="#e81616" stroke-width="11.0"/>
<path d="M1340 960C1337 983 1327 1060 1320 1100C1313 1140 1308 1160 1300 1200C1292 1240 1275 1317 1270 1340" stroke="#e81616" stroke-width="12.7"/>
<path d="M290 1120C290 1133 282 1177 290 1200C298 1223 318 1243 340 1260C362 1277 393 1287 420 1300C447 1313 487 1333 500 1340" stroke="#e81616" stroke-width="11.0"/>
<path d="M330 1030C335 1047 348 1098 360 1130C372 1162 390 1185 400 1220C410 1255 417 1320 420 1340" stroke="#e81616" stroke-width="11.0"/>
<path d="M20 1280C37 1278 90 1268 120 1270C150 1272 187 1287 200 1290" stroke="#e81616" stroke-width="10.2"/>
<path d="M500 1160C517 1165 567 1180 600 1190C633 1200 673 1203 700 1220C727 1237 743 1270 760 1290C777 1310 793 1332 800 1340" stroke="#e81616" stroke-width="11.0"/>
<path d="M640 1300C653 1290 693 1263 720 1240C747 1217 787 1173 800 1160" stroke="#e81616" stroke-width="10.2"/>
<path d="M1180 1060C1187 1077 1207 1130 1220 1160C1233 1190 1253 1227 1260 1240" stroke="#e81616" stroke-width="10.2"/>
<path d="M1200 1230C1208 1235 1233 1258 1250 1260C1267 1262 1292 1243 1300 1240" stroke="#e81616" stroke-width="14.4"/>
<path d="M100 480C110 493 143 530 160 560C177 590 200 627 200 660C200 693 167 743 160 760" stroke="#e81616" stroke-width="9.3"/>
<path d="M20 450C30 453 60 458 80 470C100 482 123 498 140 520C157 542 173 587 180 600" stroke="#e81616" stroke-width="10.2"/>
<path d="M10 650C25 655 68 668 100 680C132 692 170 707 200 720C230 733 267 753 280 760" stroke="#e81616" stroke-width="10.2"/>
<path d="M30 760C45 765 92 783 120 790C148 797 187 798 200 800" stroke="#e81616" stroke-width="9.3"/>
<path d="M0 860C13 858 53 857 80 850C107 843 147 825 160 820" stroke="#e81616" stroke-width="9.3"/>
<path d="M150 560C155 573 167 617 180 640C193 663 213 677 230 700C247 723 268 753 280 780C292 807 297 847 300 860" stroke="#bb1010" stroke-width="9.3"/>
<path d="M60 1000C72 1010 107 1040 130 1060C153 1080 180 1097 200 1120C220 1143 242 1187 250 1200" stroke="#e81616" stroke-width="11.0"/>
<path d="M10 1180C22 1175 55 1150 80 1150C105 1150 137 1165 160 1180C183 1195 210 1230 220 1240" stroke="#bb1010" stroke-width="9.3"/>
<path d="M140 120C143 133 160 170 160 200C160 230 143 283 140 300" stroke="#e81616" stroke-width="9.3"/>
<path d="M20 700C27 717 52 767 60 800C68 833 70 867 70 900C70 933 62 983 60 1000" stroke="#e81616" stroke-width="14.4"/>
<path d="M150 700C158 713 182 753 200 780C218 807 250 847 260 860" stroke="#e81616" stroke-width="10.2"/>
<circle cx="44" cy="285" r="8" fill="#e81616" stroke="none"/>
<circle cx="84" cy="294" r="8" fill="#e81616" stroke="none"/>
<circle cx="135" cy="349" r="9" fill="#e81616" stroke="none"/>
<circle cx="247" cy="570" r="8" fill="#e81616" stroke="none"/>
<circle cx="432" cy="771" r="11" fill="#e81616" stroke="none"/>
<circle cx="456" cy="800" r="11" fill="#e81616" stroke="none"/>
<circle cx="313" cy="582" r="11" fill="#e81616" stroke="none"/>
<circle cx="424" cy="470" r="11" fill="#e81616" stroke="none"/>
<circle cx="483" cy="489" r="12" fill="#e81616" stroke="none"/>
<circle cx="624" cy="815" r="10" fill="#bb1010" stroke="none"/>
<circle cx="582" cy="826" r="7" fill="#bb1010" stroke="none"/>
<circle cx="289" cy="371" r="10" fill="#bb1010" stroke="none"/>
<circle cx="228" cy="405" r="7" fill="#bb1010" stroke="none"/>
<circle cx="155" cy="428" r="9" fill="#bb1010" stroke="none"/>
<circle cx="39" cy="89" r="12" fill="#e81616" stroke="none"/>
<circle cx="44" cy="230" r="10" fill="#e81616" stroke="none"/>
<circle cx="39" cy="514" r="9" fill="#e81616" stroke="none"/>
<circle cx="26" cy="748" r="11" fill="#e81616" stroke="none"/>
<circle cx="59" cy="917" r="12" fill="#e81616" stroke="none"/>
<circle cx="110" cy="383" r="14" fill="#e81616" stroke="none"/>
<circle cx="112" cy="681" r="13" fill="#e81616" stroke="none"/>
<circle cx="97" cy="833" r="11" fill="#e81616" stroke="none"/>
<circle cx="199" cy="852" r="13" fill="#e81616" stroke="none"/>
<circle cx="279" cy="865" r="11" fill="#e81616" stroke="none"/>
<circle cx="412" cy="900" r="11" fill="#e81616" stroke="none"/>
<circle cx="309" cy="1048" r="12" fill="#e81616" stroke="none"/>
<circle cx="296" cy="898" r="13" fill="#e81616" stroke="none"/>
<circle cx="455" cy="978" r="10" fill="#e81616" stroke="none"/>
<circle cx="1332" cy="1269" r="9" fill="#e81616" stroke="none"/>
<circle cx="650" cy="865" r="8" fill="#bb1010" stroke="none"/>
<circle cx="640" cy="1019" r="9" fill="#bb1010" stroke="none"/>
<circle cx="981" cy="755" r="10" fill="#e81616" stroke="none"/>
<circle cx="952" cy="1316" r="7" fill="#e81616" stroke="none"/>
<circle cx="1098" cy="885" r="7" fill="#e81616" stroke="none"/>
<circle cx="999" cy="959" r="9" fill="#e81616" stroke="none"/>
<circle cx="1323" cy="998" r="8" fill="#e81616" stroke="none"/>
<circle cx="395" cy="1208" r="11" fill="#e81616" stroke="none"/>
<circle cx="77" cy="1274" r="8" fill="#e81616" stroke="none"/>
<circle cx="602" cy="1191" r="8" fill="#e81616" stroke="none"/>
<circle cx="673" cy="1275" r="8" fill="#e81616" stroke="none"/>
<circle cx="770" cy="1190" r="9" fill="#e81616" stroke="none"/>
<circle cx="1215" cy="1147" r="10" fill="#e81616" stroke="none"/>
<circle cx="1227" cy="1246" r="11" fill="#e81616" stroke="none"/>
<circle cx="1296" cy="1241" r="14" fill="#e81616" stroke="none"/>
<circle cx="134" cy="515" r="9" fill="#e81616" stroke="none"/>
<circle cx="148" cy="536" r="9" fill="#e81616" stroke="none"/>
<circle cx="210" cy="725" r="11" fill="#e81616" stroke="none"/>
<circle cx="112" cy="838" r="10" fill="#e81616" stroke="none"/>
<circle cx="182" cy="642" r="10" fill="#bb1010" stroke="none"/>
<circle cx="218" cy="1149" r="9" fill="#e81616" stroke="none"/>
<circle cx="76" cy="1152" r="10" fill="#bb1010" stroke="none"/>
<circle cx="216" cy="1236" r="10" fill="#bb1010" stroke="none"/>
<circle cx="64" cy="962" r="13" fill="#e81616" stroke="none"/>
<circle cx="158" cy="713" r="8" fill="#e81616" stroke="none"/>
</g></g></g>
<rect x="1033.5" y="1392.7" width="255.4" height="255.0" fill="#000"/>
<g clip-path="url(#cp7)"><g transform="translate(1033 1392) scale(0.18893)" fill="none" stroke-linecap="round" stroke-linejoin="round">
<g opacity="0.35">
<path d="M550 10C547 18 533 38 530 60C527 82 527 117 530 140C533 163 542 180 550 200C558 220 568 240 580 260C592 280 603 302 620 320C637 338 657 360 680 370C703 380 730 378 760 380C790 382 827 381 860 380C893 379 927 376 960 375C993 374 1033 378 1060 375C1087 372 1102 371 1120 360C1138 349 1152 327 1170 310C1188 293 1210 275 1230 260C1250 245 1272 228 1290 220C1308 212 1332 212 1340 210" stroke="#700000" stroke-width="24.2"/>
<path d="M10 870C22 858 55 817 80 800C105 783 133 778 160 770C187 762 220 758 240 750C260 742 265 733 280 720C295 707 313 687 330 670C347 653 362 635 380 620C398 605 417 592 440 580C463 568 490 556 520 550C550 544 587 545 620 545C653 545 690 551 720 550C750 549 770 545 800 540C830 535 867 527 900 520C933 513 970 507 1000 500C1030 493 1053 488 1080 480C1107 472 1133 462 1160 450C1187 438 1217 423 1240 410C1263 397 1283 388 1300 370C1317 352 1333 312 1340 300" stroke="#700000" stroke-width="27.9"/>
<path d="M280 730C293 731 333 732 360 735C387 738 420 746 440 750C460 754 475 752 480 760C485 768 475 785 470 800C465 815 458 833 450 850C442 867 432 885 420 900C408 915 397 928 380 940C363 952 340 963 320 970C300 977 280 982 260 980C240 978 220 970 200 960C180 950 160 930 140 920C120 910 100 903 80 900C60 897 30 900 20 900" stroke="#700000" stroke-width="27.9"/>
<path d="M460 760C470 753 497 729 520 720C543 711 570 707 600 705C630 703 673 706 700 710C727 714 743 720 760 730C777 740 783 758 800 770C817 782 837 788 860 800C883 812 913 827 940 840C967 853 993 870 1020 880C1047 890 1073 893 1100 900C1127 907 1153 910 1180 920C1207 930 1233 952 1260 960C1287 968 1327 968 1340 970" stroke="#700000" stroke-width="26.1"/>
<path d="M680 380C680 392 683 430 680 450C677 470 667 485 660 500C653 515 643 533 640 540" stroke="#700000" stroke-width="22.4"/>
<path d="M310 540C310 553 315 597 310 620C305 643 288 660 280 680C272 700 263 730 260 740" stroke="#700000" stroke-width="22.4"/>
<path d="M20 900C27 910 53 937 60 960C67 983 57 1015 60 1040C63 1065 70 1090 80 1110C90 1130 113 1152 120 1160" stroke="#700000" stroke-width="24.2"/>
<path d="M150 1000C153 1013 168 1058 170 1080C172 1102 162 1122 160 1130" stroke="#700000" stroke-width="20.5"/>
<path d="M20 860C33 863 73 873 100 880C127 887 157 890 180 900C203 910 220 928 240 940C260 952 290 965 300 970" stroke="#700000" stroke-width="24.2"/>
<path d="M180 1000C190 1003 222 1013 240 1020C258 1027 275 1030 290 1040C305 1050 323 1073 330 1080" stroke="#700000" stroke-width="20.5"/>
<path d="M10 610L50 600" stroke="#700000" stroke-width="18.6"/>
<path d="M640 110C640 125 638 172 640 200C642 228 648 267 650 280" stroke="#700000" stroke-width="16.8"/>
<path d="M320 300L320 500" stroke="#700000" stroke-width="13.0"/>
</g>
<rect x="60" y="780" width="230" height="310" fill="#ff0000" opacity="0.063" stroke="none" filter="url(#hz)"/>
<g filter="url(#gl)">
<path d="M550 10C547 18 533 38 530 60C527 82 527 117 530 140C533 163 542 180 550 200C558 220 568 240 580 260C592 280 603 302 620 320C637 338 657 360 680 370C703 380 730 378 760 380C790 382 827 381 860 380C893 379 927 376 960 375C993 374 1033 378 1060 375C1087 372 1102 371 1120 360C1138 349 1152 327 1170 310C1188 293 1210 275 1230 260C1250 245 1272 228 1290 220C1308 212 1332 212 1340 210" stroke="#e81616" stroke-width="11.0"/>
<path d="M10 870C22 858 55 817 80 800C105 783 133 778 160 770C187 762 220 758 240 750C260 742 265 733 280 720C295 707 313 687 330 670C347 653 362 635 380 620C398 605 417 592 440 580C463 568 490 556 520 550C550 544 587 545 620 545C653 545 690 551 720 550C750 549 770 545 800 540C830 535 867 527 900 520C933 513 970 507 1000 500C1030 493 1053 488 1080 480C1107 472 1133 462 1160 450C1187 438 1217 423 1240 410C1263 397 1283 388 1300 370C1317 352 1333 312 1340 300" stroke="#e81616" stroke-width="12.7"/>
<path d="M280 730C293 731 333 732 360 735C387 738 420 746 440 750C460 754 475 752 480 760C485 768 475 785 470 800C465 815 458 833 450 850C442 867 432 885 420 900C408 915 397 928 380 940C363 952 340 963 320 970C300 977 280 982 260 980C240 978 220 970 200 960C180 950 160 930 140 920C120 910 100 903 80 900C60 897 30 900 20 900" stroke="#e81616" stroke-width="12.7"/>
<path d="M460 760C470 753 497 729 520 720C543 711 570 707 600 705C630 703 673 706 700 710C727 714 743 720 760 730C777 740 783 758 800 770C817 782 837 788 860 800C883 812 913 827 940 840C967 853 993 870 1020 880C1047 890 1073 893 1100 900C1127 907 1153 910 1180 920C1207 930 1233 952 1260 960C1287 968 1327 968 1340 970" stroke="#e81616" stroke-width="11.9"/>
<path d="M680 380C680 392 683 430 680 450C677 470 667 485 660 500C653 515 643 533 640 540" stroke="#e81616" stroke-width="10.2"/>
<path d="M310 540C310 553 315 597 310 620C305 643 288 660 280 680C272 700 263 730 260 740" stroke="#e81616" stroke-width="10.2"/>
<path d="M20 900C27 910 53 937 60 960C67 983 57 1015 60 1040C63 1065 70 1090 80 1110C90 1130 113 1152 120 1160" stroke="#e81616" stroke-width="11.0"/>
<path d="M150 1000C153 1013 168 1058 170 1080C172 1102 162 1122 160 1130" stroke="#e81616" stroke-width="9.3"/>
<path d="M20 860C33 863 73 873 100 880C127 887 157 890 180 900C203 910 220 928 240 940C260 952 290 965 300 970" stroke="#e81616" stroke-width="11.0"/>
<path d="M180 1000C190 1003 222 1013 240 1020C258 1027 275 1030 290 1040C305 1050 323 1073 330 1080" stroke="#bb1010" stroke-width="9.3"/>
<path d="M10 610L50 600" stroke="#bb1010" stroke-width="8.5"/>
<path d="M640 110C640 125 638 172 640 200C642 228 648 267 650 280" stroke="#bb1010" stroke-width="7.6"/>
<path d="M320 300L320 500" stroke="#800b0b" stroke-width="5.9"/>
<circle cx="530" cy="118" r="10" fill="#e81616" stroke="none"/>
<circle cx="578" cy="255" r="8" fill="#e81616" stroke="none"/>
<circle cx="631" cy="329" r="9" fill="#e81616" stroke="none"/>
<circle cx="799" cy="380" r="8" fill="#e81616" stroke="none"/>
<circle cx="877" cy="379" r="9" fill="#e81616" stroke="none"/>
<circle cx="1038" cy="375" r="10" fill="#e81616" stroke="none"/>
<circle cx="261" cy="734" r="12" fill="#e81616" stroke="none"/>
<circle cx="285" cy="715" r="10" fill="#e81616" stroke="none"/>
<circle cx="523" cy="550" r="9" fill="#e81616" stroke="none"/>
<circle cx="912" cy="518" r="10" fill="#e81616" stroke="none"/>
<circle cx="1048" cy="488" r="10" fill="#e81616" stroke="none"/>
<circle cx="1204" cy="428" r="13" fill="#e81616" stroke="none"/>
<circle cx="1338" cy="303" r="13" fill="#e81616" stroke="none"/>
<circle cx="456" cy="834" r="13" fill="#e81616" stroke="none"/>
<circle cx="220" cy="967" r="10" fill="#e81616" stroke="none"/>
<circle cx="76" cy="900" r="9" fill="#e81616" stroke="none"/>
<circle cx="579" cy="709" r="11" fill="#e81616" stroke="none"/>
<circle cx="778" cy="748" r="9" fill="#e81616" stroke="none"/>
<circle cx="995" cy="868" r="13" fill="#e81616" stroke="none"/>
<circle cx="1037" cy="884" r="9" fill="#e81616" stroke="none"/>
<circle cx="1242" cy="951" r="10" fill="#e81616" stroke="none"/>
<circle cx="649" cy="522" r="8" fill="#e81616" stroke="none"/>
<circle cx="305" cy="630" r="9" fill="#e81616" stroke="none"/>
<circle cx="276" cy="693" r="10" fill="#e81616" stroke="none"/>
<circle cx="27" cy="911" r="12" fill="#e81616" stroke="none"/>
<circle cx="60" cy="1024" r="11" fill="#e81616" stroke="none"/>
<circle cx="152" cy="893" r="10" fill="#e81616" stroke="none"/>
<circle cx="267" cy="954" r="12" fill="#e81616" stroke="none"/>
<circle cx="224" cy="1015" r="10" fill="#bb1010" stroke="none"/>
<circle cx="321" cy="1071" r="8" fill="#bb1010" stroke="none"/>
<circle cx="642" cy="220" r="6" fill="#bb1010" stroke="none"/>
</g></g></g>
<text x="315.8" y="1679.0" font-size="32.5" text-anchor="start" font-weight="normal">HBSS</text>
<text x="568.2" y="1679.1" font-size="32.5" text-anchor="start" font-weight="normal">MPEP</text>
<text x="813.7" y="1678.4" font-size="31.5" text-anchor="start" font-weight="normal">SB216763</text>
<text x="1081.5" y="1678.8" font-size="31.5" text-anchor="start" font-weight="normal">AFC031727</text>
</svg>
</body></html>
